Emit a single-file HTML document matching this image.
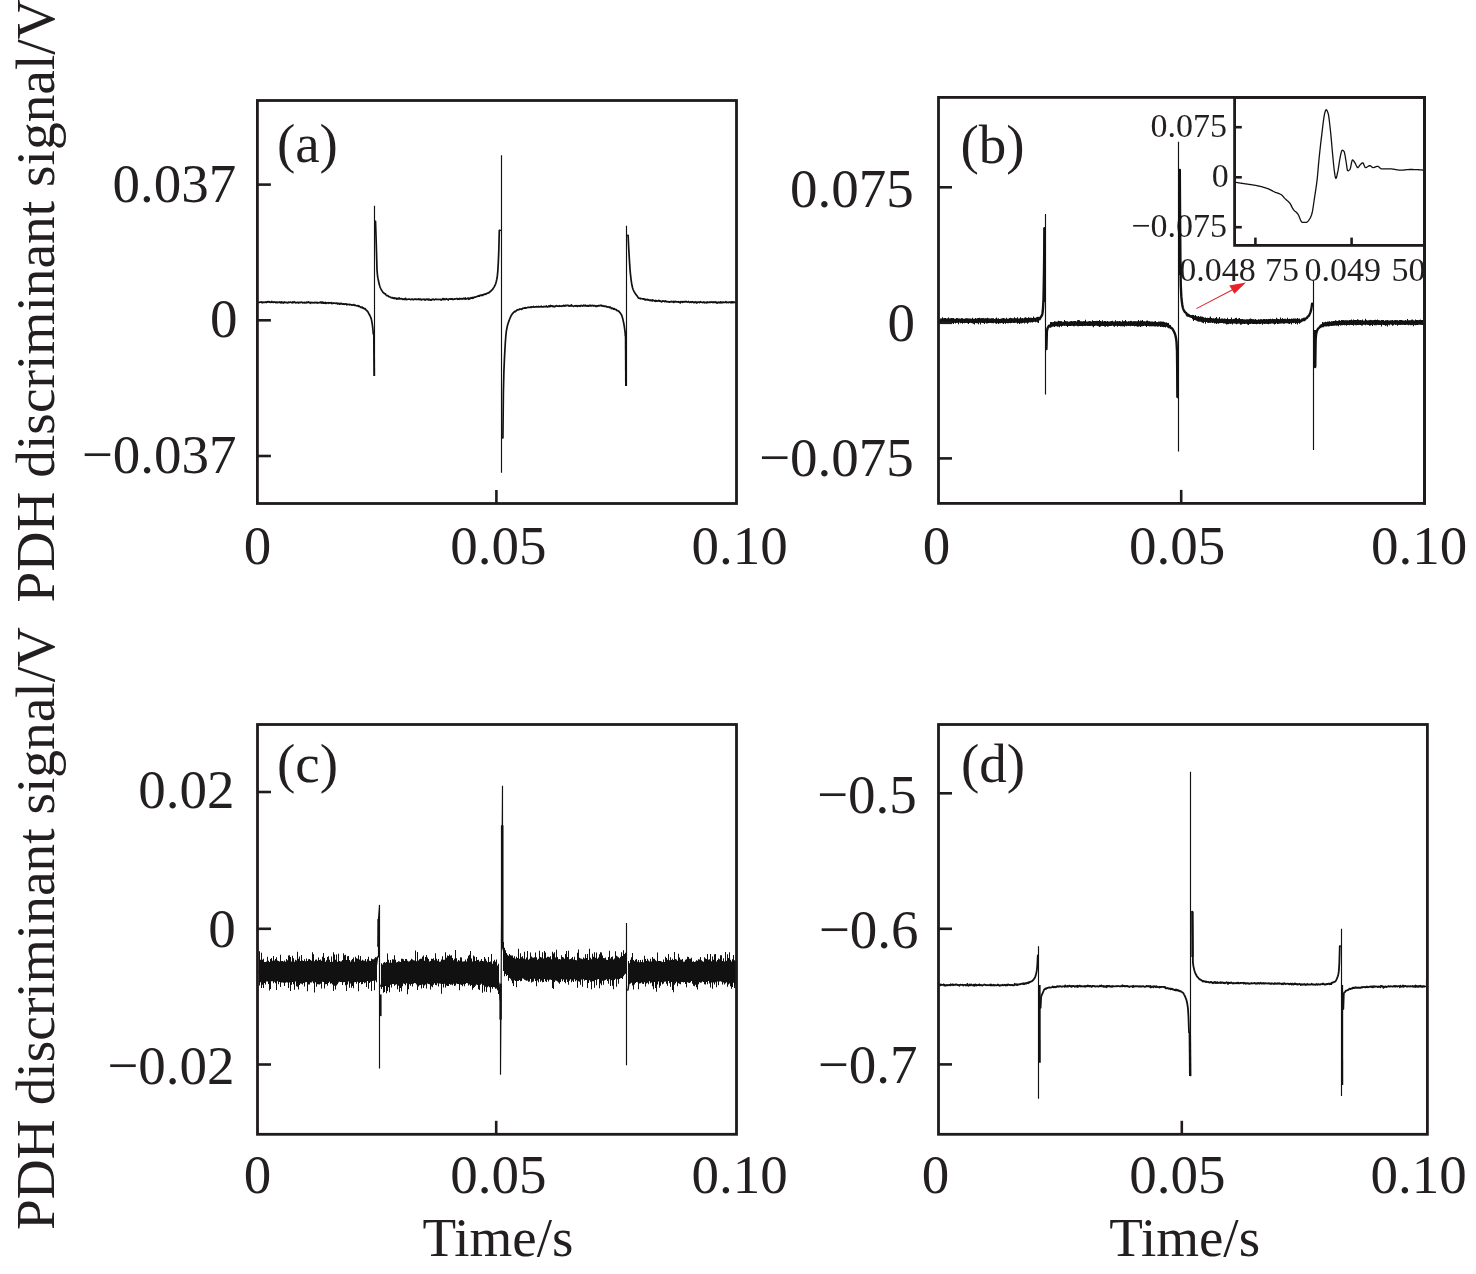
<!DOCTYPE html>
<html><head><meta charset="utf-8"><title>PDH discriminant signal</title>
<style>html,body{margin:0;padding:0;background:#fff;}svg{display:block;will-change:transform;}</style>
</head><body>
<svg width="1476" height="1274" viewBox="0 0 1476 1274">
<rect width="1476" height="1274" fill="#ffffff"/>
<g font-family="&quot;Liberation Serif&quot;, &quot;Times New Roman&quot;, serif" fill="#231f20">
<text transform="translate(54.1,602.4) rotate(-90)" font-size="55.4">PDH discriminant signal/V</text>
<text transform="translate(54.1,1230) rotate(-90)" font-size="55.4">PDH discriminant signal/V</text>
<text x="276.9" y="162.45" font-size="55">(a)</text>
<text x="960.42" y="162.65" font-size="55">(b)</text>
<text x="277.05" y="782.05" font-size="55">(c)</text>
<text x="960.98" y="782.45" font-size="55">(d)</text>
<text x="112.55" y="201.95" font-size="55">0.037</text>
<text x="210.1" y="336.9" font-size="55">0</text>
<text x="81.65" y="472.65" font-size="55">−0.037</text>
<text x="790.05" y="207.45" font-size="55">0.075</text>
<text x="887.4" y="341.2" font-size="55">0</text>
<text x="759.05" y="475.55" font-size="55">−0.075</text>
<text x="138.15" y="808.15" font-size="55">0.02</text>
<text x="208.2" y="946.5" font-size="55">0</text>
<text x="107.15" y="1083.75" font-size="55">−0.02</text>
<text x="817.05" y="813.15" font-size="55">−0.5</text>
<text x="818.65" y="948.25" font-size="55">−0.6</text>
<text x="817.85" y="1082.75" font-size="55">−0.7</text>
<text x="243.85" y="564.1" font-size="55">0</text>
<text x="450.27" y="563.85" font-size="55">0.05</text>
<text x="691.62" y="563.85" font-size="55">0.10</text>
<text x="922.7" y="564" font-size="55">0</text>
<text x="1128.92" y="563.75" font-size="55">0.05</text>
<text x="1370.88" y="563.75" font-size="55">0.10</text>
<text x="243.85" y="1193.2" font-size="55">0</text>
<text x="450.27" y="1192.95" font-size="55">0.05</text>
<text x="691.62" y="1192.95" font-size="55">0.10</text>
<text x="921.8" y="1193.2" font-size="55">0</text>
<text x="1129.18" y="1192.95" font-size="55">0.05</text>
<text x="1370.53" y="1192.95" font-size="55">0.10</text>
<text x="422.62" y="1256.1" font-size="55">Time/s</text>
<text x="1109.22" y="1256.1" font-size="55">Time/s</text>
<text x="1150.5" y="137.1" font-size="34">0.075</text>
<text x="1211.8" y="187.25" font-size="34">0</text>
<text x="1131.25" y="237" font-size="34">−0.075</text>
<text x="1179.2" y="281.1" font-size="34">0.048</text>
<text x="1264.9" y="281.35" font-size="34">75</text>
<text x="1304.6" y="281.1" font-size="34">0.049</text>
<text x="1391.5" y="281.35" font-size="34">50</text>
</g>
<path d="M258.8 302.3L259.3 302.4L259.8 302.2L260.3 301.99L260.8 302.14L261.3 301.95L261.8 302.32L262.3 302.77L262.8 302.13L263.3 302.09L263.8 302.48L264.3 302.43L264.8 302.34L265.3 301.98L265.8 302.3L266.3 302.55L266.8 301.84L267.3 302.15L267.8 301.65L268.3 301.86L268.8 301.67L269.3 302.23L269.8 301.88L270.3 302.41L270.8 302.38L271.3 302.26L271.8 301.45L272.3 302.14L272.8 302.31L273.3 302.37L273.8 301.8L274.3 302.17L274.8 302L275.3 302.06L275.8 302.71L276.3 302.06L276.8 302.34L277.3 302.66L277.8 302.15L278.3 302.32L278.8 302.4L279.3 302.38L279.8 301.93L280.3 302.39L280.8 302.84L281.3 301.83L281.8 302.67L282.3 302.42L282.8 302.16L283.3 303.08L283.8 302.65L284.3 301.97L284.8 302.42L285.3 302.6L285.8 302.33L286.3 302.64L286.8 302.38L287.3 302.64L287.8 302.91L288.3 302.18L288.8 302.49L289.3 302.26L289.8 302.47L290.3 302.01L290.8 302.23L291.3 302.37L291.8 302.75L292.3 302.84L292.8 301.98L293.3 302.17L293.8 302.68L294.3 301.76L294.8 302.3L295.3 302.43L295.8 302.91L296.3 302.71L296.8 302.36L297.3 302.35L297.8 302.4L298.3 303.02L298.8 302.34L299.3 302.39L299.8 302.62L300.3 302.46L300.8 302.44L301.3 302.12L301.8 302.51L302.3 302.36L302.8 302.93L303.3 302.75L303.8 302.52L304.3 302.77L304.8 302.42L305.3 302.91L305.8 302.55L306.3 302.76L306.8 302.11L307.3 302.69L307.8 301.98L308.3 301.87L308.8 302.48L309.3 302.28L309.8 302.65L310.3 303.38L310.8 302.32L311.3 302.4L311.8 302.69L312.3 302.8L312.8 302.57L313.3 302.57L313.8 302.89L314.3 302.84L314.8 302.3L315.3 302.64L315.8 302.69L316.3 302.32L316.8 302.79L317.3 302.41L317.8 303.05L318.3 302.79L318.8 302.76L319.3 302.54L319.8 302.71L320.3 302.07L320.8 302.38L321.3 302.91L321.8 302.05L322.3 303.09L322.8 302.21L323.3 303.09L323.8 302.54L324.3 303.12L324.8 302.9L325.3 302.34L325.8 303.32L326.3 303.39L326.8 302.89L327.3 302.83L327.8 302.88L328.3 302.61L328.8 303.34L329.3 302.79L329.8 302.98L330.3 302.74L330.8 302.81L331.3 302.61L331.8 303.5L332.3 303.05L332.8 303.46L333.3 303.17L333.8 302.97L334.3 303.13L334.8 303.09L335.3 303.32L335.8 303.24L336.3 303.31L336.8 303L337.3 303.23L337.8 304.1L338.3 303.38L338.8 303.3L339.3 303.81L339.8 304.22L340.3 303.32L340.8 303.78L341.3 303.69L341.8 303.37L342.3 304.25L342.8 304.04L343.3 304.12L343.8 303.89L344.3 304.34L344.8 304.05L345.3 304.23L345.8 303.95L346.3 303.95L346.8 304.85L347.3 304.26L347.8 304.57L348.3 304.5L348.8 304.4L349.3 304.41L349.8 304.84L350.3 304.57L350.8 304.66L351.3 304.76L351.8 305.19L352.3 305.08L352.8 305.03L353.3 304.77L353.8 304.56L354.3 305.39L354.8 305.46L355.3 305.18L355.8 305.47L356.3 305.64L356.8 305.76L357.3 305.91L357.8 305.63L358.3 306.37L358.8 305.74L359.3 306.53L359.8 306.62L360.3 306.93L360.8 307.42L361.3 307.53L361.8 307.06L362.3 307.15L362.8 308.06L363.3 307.84L363.8 308.37L364.3 308.87L364.8 308.61L365.3 308.87L365.8 309.78L366.3 310.15L366.8 310.56L367.3 311.11L367.8 311.69L368.3 312.52L368.8 313.51L369.3 314.5L369.8 315.49L370.3 316.49L370.8 317.63L371.3 319.1L371.8 321.27L372.3 324.29L372.8 328.27L373.3 333.8" fill="none" stroke="#111111" stroke-width="1.7" stroke-linejoin="round" stroke-linecap="round"/>
<path d="M373.3 333.8L374.5 333.8L374.5 376L374.5 205.7L374.5 221.4L375.5 221.4" fill="none" stroke="#111111" stroke-width="1.15" stroke-linejoin="miter" stroke-miterlimit="2"/>
<path d="M375.5 221.4L376 235.85L376.5 252.32L377 269.97L377.5 275.53L378.01 278.66L378.51 281.04L379.01 283.31L379.51 285.26L380.01 286.82L380.51 288.01L381.01 289.07L381.51 290.02L382.02 290.89L382.52 291.62L383.02 292.48L383.52 292.92L384.02 293.03L384.52 293.74L385.02 293.85L385.52 293.9L386.03 294.85L386.53 295.61L387.03 295.57L387.53 295.51L388.03 295.81L388.53 296.6L389.03 296.56L389.53 296.74L390.04 296.93L390.54 297.17L391.04 297.59L391.54 297.71L392.04 297.8L392.54 297.59L393.04 298.2L393.54 297.95L394.04 298.61L394.55 297.9L395.05 298.32L395.55 298.42L396.05 298.03L396.55 299.09L397.05 299.05L397.55 298.45L398.05 298.91L398.56 298.81L399.06 297.84L399.56 298.84L400.06 298.77L400.56 298.85L401.06 298.49L401.56 298.79L402.06 298.85L402.57 299.34L403.07 299.08L403.57 298.98L404.07 299.53L404.57 298.84L405.07 298.92L405.57 298.44L406.07 299.63L406.58 299.44L407.08 299.44L407.58 299.37L408.08 299.19L408.58 299.24L409.08 299.09L409.58 299.12L410.08 299.22L410.59 299.74L411.09 299.42L411.59 299.22L412.09 299.05L412.59 299.04L413.09 299.83L413.59 299.46L414.09 299.32L414.59 299.19L415.1 298.93L415.6 299.31L416.1 299.64L416.6 299.21L417.1 299.28L417.6 299.29L418.1 299.42L418.6 298.83L419.11 299.31L419.61 299.11L420.11 299.72L420.61 299.15L421.11 299.63L421.61 299.97L422.11 299.33L422.61 299.24L423.12 299.52L423.62 299.46L424.12 299.12L424.62 299.63L425.12 300.18L425.62 299.39L426.12 299.41L426.62 299.12L427.13 299.6L427.63 299.06L428.13 299.11L428.63 299.95L429.13 299.18L429.63 299.88L430.13 300.03L430.63 299.59L431.13 299.69L431.64 300.18L432.14 299.43L432.64 299.29L433.14 299.02L433.64 299.5L434.14 300L434.64 299.81L435.14 299.14L435.65 299.17L436.15 299.29L436.65 299.56L437.15 299.38L437.65 299.52L438.15 299.54L438.65 299.32L439.15 299.41L439.66 299.48L440.16 299.37L440.66 299.57L441.16 300.03L441.66 299.58L442.16 299.39L442.66 298.77L443.16 299.48L443.67 298.66L444.17 298.84L444.67 299.61L445.17 299.55L445.67 299.24L446.17 298.69L446.67 299.15L447.17 299.03L447.67 299.47L448.18 300.02L448.68 299.3L449.18 298.95L449.68 298.8L450.18 299.18L450.68 299.12L451.18 298.77L451.68 299.2L452.19 298.75L452.69 299.52L453.19 299.49L453.69 299.48L454.19 298.93L454.69 299.26L455.19 299.02L455.69 298.92L456.2 298.92L456.7 298.57L457.2 298.51L457.7 299.26L458.2 298.9L458.7 299.03L459.2 299.28L459.7 298.32L460.21 298.62L460.71 298.93L461.21 298.98L461.71 298.7L462.21 299.15L462.71 298.85L463.21 298.34L463.71 298.41L464.21 298.97L464.72 298.83L465.22 297.99L465.72 299.07L466.22 298.78L466.72 299L467.22 298.38L467.72 298.38L468.22 298.06L468.73 299.26L469.23 298.3L469.73 298.85L470.23 298.06L470.73 298.28L471.23 297.61L471.73 297.95L472.23 298.29L472.74 297.49L473.24 298.09L473.74 297.74L474.24 297.19L474.74 297.22L475.24 297.09L475.74 297.06L476.24 296.77L476.75 296.52L477.25 296.52L477.75 296.14L478.25 295.9L478.75 296.11L479.25 296.22L479.75 295.35L480.25 295.65L480.76 295.3L481.26 295.05L481.76 295.46L482.26 294.9L482.76 295.36L483.26 294.54L483.76 294.74L484.26 294.4L484.76 294.09L485.27 294.32L485.77 293.93L486.27 293.96L486.77 293.58L487.27 293.08L487.77 293.13L488.27 292.93L488.77 292.9L489.28 292.15L489.78 292.05L490.28 291.33L490.78 291.42L491.28 290.63L491.78 290.01L492.28 289.69L492.78 289.17L493.29 288.19L493.79 287.47L494.29 286.65L494.79 285.73L495.29 284.62L495.79 283.23L496.29 281.47L496.79 279.23L497.3 276.37L497.8 271.09L498.3 262.91L498.8 250.58L499.3 230.4" fill="none" stroke="#111111" stroke-width="1.7" stroke-linejoin="round" stroke-linecap="round"/>
<path d="M499.3 230.4L501.5 230.4L501.5 155.2L501.5 472.8L501.5 437.8L502.9 437.8" fill="none" stroke="#111111" stroke-width="1.15" stroke-linejoin="miter" stroke-miterlimit="2"/>
<path d="M502.9 437.8L503.4 391.45L503.9 371.37L504.4 359.4L504.9 349.8L505.4 341.46L505.9 334.97L506.4 330.87L506.9 328.08L507.4 325.85L507.9 324.03L508.4 322.49L508.9 321.1L509.4 319.76L509.9 318.5L510.4 317.31L510.9 316.23L511.4 315.16L511.9 314.47L512.4 313.59L512.9 313.39L513.4 312.54L513.9 312.28L514.4 311.62L514.9 311.37L515.4 311.6L515.9 311.17L516.4 310.59L516.9 310.21L517.4 309.69L517.9 309.89L518.4 309.8L518.9 309.61L519.4 309.44L519.9 308.98L520.4 309.15L520.9 309.01L521.4 309.28L521.9 309.32L522.4 308.59L522.9 308.27L523.4 308.37L523.9 308.09L524.4 307.94L524.9 308.05L525.4 307.65L525.9 308.08L526.4 307.77L526.9 307.81L527.4 307.59L527.9 307.35L528.4 307.21L528.9 307.39L529.4 307.24L529.9 307.45L530.4 307.33L530.9 306.83L531.4 307.28L531.9 306.76L532.4 306.97L532.9 307.05L533.4 306.41L533.9 307.12L534.4 307.11L534.9 306.98L535.4 306.86L535.9 306.86L536.4 306.63L536.9 306.84L537.4 306.73L537.9 306.92L538.4 306.46L538.9 306.93L539.4 306.88L539.9 306.76L540.4 306.63L540.9 306.95L541.4 306.17L541.9 306.87L542.4 306.78L542.9 306.77L543.4 306.78L543.9 306.4L544.4 306.51L544.9 306.8L545.4 306.71L545.9 306.61L546.4 306L546.9 306.68L547.4 306.87L547.9 306.79L548.4 306.51L548.9 305.87L549.4 306.71L549.9 306.31L550.4 305.47L550.9 306.45L551.4 305.79L551.9 305.83L552.4 306.04L552.9 306.67L553.4 306.09L553.9 306.29L554.4 306.78L554.9 306.71L555.4 306.11L555.9 306.04L556.4 305.67L556.9 305.85L557.4 306.22L557.9 306.19L558.4 306.08L558.9 306.36L559.4 305.74L559.9 305.97L560.4 306.23L560.9 306.16L561.4 306.32L561.9 306.07L562.4 305.82L562.9 306.04L563.4 305.55L563.9 305.32L564.4 306.08L564.9 305.85L565.4 305.96L565.9 305.26L566.4 305.71L566.9 305.62L567.4 305.52L567.9 305.03L568.4 305.7L568.9 306.12L569.4 305.94L569.9 305.59L570.4 305.79L570.9 306.06L571.4 304.83L571.9 305.75L572.4 305.98L572.9 306.02L573.4 306.37L573.9 306.17L574.4 305.88L574.9 305.88L575.4 306.04L575.9 305.58L576.4 305.75L576.9 306.08L577.4 306.44L577.9 305.7L578.4 305.74L578.9 305.82L579.4 306.22L579.9 305.74L580.4 306.26L580.9 305.41L581.4 305.68L581.9 305.67L582.4 306.01L582.9 306.1L583.4 305.21L583.9 305.41L584.4 305.85L584.9 305.5L585.4 305.19L585.9 306.09L586.4 305.9L586.9 305.89L587.4 305.55L587.9 306.08L588.4 305.63L588.9 306.1L589.4 305.4L589.9 305.41L590.4 305.78L590.9 305.46L591.4 305.95L591.9 305.8L592.4 305.38L592.9 305.73L593.4 305.58L593.9 306.03L594.4 305.48L594.9 305.55L595.4 306.13L595.9 306.49L596.4 306.4L596.9 305.72L597.4 305.78L597.9 306.24L598.4 305.66L598.9 305.36L599.4 305.74L599.9 305.86L600.4 305.42L600.9 305.17L601.4 305.28L601.9 306.03L602.4 305.63L602.9 305.9L603.4 306.1L603.9 306.32L604.4 306.12L604.9 306.48L605.4 306.16L605.9 306.44L606.4 306.34L606.9 307.13L607.4 306.88L607.9 306.77L608.4 307L608.9 307.15L609.4 307.56L609.9 306.97L610.4 307.27L610.9 307.6L611.4 308.61L611.9 308.28L612.4 308.11L612.9 308.51L613.4 309.07L613.9 308.59L614.4 308.74L614.9 309.39L615.4 309.4L615.9 309.68L616.4 309.61L616.9 310.49L617.4 310.7L617.9 310.74L618.4 311.13L618.9 311.04L619.4 312.02L619.9 312.46L620.4 313.18L620.9 313.91L621.4 314.68L621.9 315.84L622.4 317.43L622.9 319.38L623.4 321.66L623.9 324.2L624.4 327L624.9 330.83L625.4 335.4" fill="none" stroke="#111111" stroke-width="1.7" stroke-linejoin="round" stroke-linecap="round"/>
<path d="M625.4 335.4L626.5 335.4L626.5 386.1L626.5 225.7L626.5 235.4L628.1 235.4" fill="none" stroke="#111111" stroke-width="1.15" stroke-linejoin="miter" stroke-miterlimit="2"/>
<path d="M628.1 235.4L628.6 245.7L629.1 254.86L629.61 263.33L630.11 270.59L630.61 275.58L631.11 279.77L631.61 283.28L632.12 286.04L632.62 287.99L633.12 289.46L633.62 290.66L634.12 291.66L634.62 292.51L635.13 293.29L635.63 294.08L636.13 294.78L636.63 295.46L637.13 295.95L637.64 296.75L638.14 297.6L638.64 298.1L639.14 298.28L639.64 298.33L640.15 298.1L640.65 298.88L641.15 298.58L641.65 298.7L642.15 298.74L642.65 298.96L643.16 298.89L643.66 299.09L644.16 298.85L644.66 299.16L645.16 300.09L645.67 299.41L646.17 299.44L646.67 299.77L647.17 299.91L647.67 299.4L648.18 299.78L648.68 300.22L649.18 300.09L649.68 300.13L650.18 300.67L650.68 300.02L651.19 300.34L651.69 300.22L652.19 300.95L652.69 299.89L653.19 300.37L653.7 300.48L654.2 300.94L654.7 300.97L655.2 301.29L655.7 300.35L656.21 301.17L656.71 300.86L657.21 300.78L657.71 301.22L658.21 300.76L658.71 300.4L659.22 301.01L659.72 300.66L660.22 300.98L660.72 301.36L661.22 301.37L661.73 301.84L662.23 301.26L662.73 300.84L663.23 301.13L663.73 301.11L664.24 301.03L664.74 301.62L665.24 301.28L665.74 300.86L666.24 301.79L666.74 301.54L667.25 301.73L667.75 301.67L668.25 301.87L668.75 301.69L669.25 302.12L669.76 301.87L670.26 301.88L670.76 301.9L671.26 301.28L671.76 301.74L672.27 301.73L672.77 301.91L673.27 301.38L673.77 302.43L674.27 301.92L674.77 301.48L675.28 301.32L675.78 301.83L676.28 301.91L676.78 301.7L677.28 301.99L677.79 301.75L678.29 302.17L678.79 301.73L679.29 301.98L679.79 302.34L680.3 302.9L680.8 301.66L681.3 301.85L681.8 301.73L682.3 302.3L682.8 301.63L683.31 301.87L683.81 302.03L684.31 301.7L684.81 301.72L685.31 301.89L685.82 301.33L686.32 301.56L686.82 301.93L687.32 302.13L687.82 302.01L688.33 301.47L688.83 301.93L689.33 302.37L689.83 302.29L690.33 302.07L690.83 301.8L691.34 302.33L691.84 301.91L692.34 301.71L692.84 301.84L693.34 302.63L693.85 302.21L694.35 302.54L694.85 301.97L695.35 302.47L695.85 301.94L696.36 302.1L696.86 303.02L697.36 302.43L697.86 301.99L698.36 302.14L698.86 302.28L699.37 302.6L699.87 302.01L700.37 301.57L700.87 302.09L701.37 302.19L701.88 302.23L702.38 302.65L702.88 302.31L703.38 302.48L703.88 301.82L704.39 302.51L704.89 302.94L705.39 302.48L705.89 302.3L706.39 302.27L706.89 302.85L707.4 301.9L707.9 302.19L708.4 302.39L708.9 302.49L709.4 302.08L709.91 302.34L710.41 302.14L710.91 302.28L711.41 302.2L711.91 301.85L712.42 302.24L712.92 302.56L713.42 301.92L713.92 302.17L714.42 302.49L714.92 301.89L715.43 302.33L715.93 301.89L716.43 302.66L716.93 303.08L717.43 302.98L717.94 302.19L718.44 302.53L718.94 302.32L719.44 302.31L719.94 302.82L720.45 301.82L720.95 302.65L721.45 302.26L721.95 302.78L722.45 302.35L722.95 302.05L723.46 302.38L723.96 302.55L724.46 302.3L724.96 302.46L725.46 302.11L725.97 301.55L726.47 302.61L726.97 302.54L727.47 302.35L727.97 302.32L728.48 302.66L728.98 302.14L729.48 302.05L729.98 302.23L730.48 302.71L730.98 301.81L731.49 302.72L731.99 302.08L732.49 301.91L732.99 302.74L733.49 302.27L734 301.84L734.5 302.17L735 302.63" fill="none" stroke="#111111" stroke-width="1.7" stroke-linejoin="round" stroke-linecap="round"/>
<path d="M940 321.33L940.5 320.21L941 320.8L941.5 321.02L942 320.08L942.5 320.78L943 320.52L943.5 320.18L944 320.21L944.5 320.61L945 320.59L945.5 320.18L946 320.28L946.5 321.36L947 320.74L947.5 321.22L948 321.44L948.5 321.02L949 322.2L949.5 320.05L950 321.19L950.5 320.41L951 321.93L951.5 321.83L952 319.29L952.5 319.98L953 321.12L953.5 321.21L954 321.18L954.5 320.62L955 320.99L955.5 321.13L956 320.63L956.5 321.4L957 319.11L957.5 321.14L958 319.98L958.5 321.37L959 320.54L959.5 320.09L960 320.97L960.5 320.08L961 320.08L961.5 319.63L962 320.71L962.5 321.07L963 321.44L963.5 320.63L964 321.47L964.5 320.75L965 320.68L965.5 321.14L966 321.48L966.5 320.51L967 320.58L967.5 320.64L968 320.81L968.5 320.13L969 321.48L969.5 320.48L970 321.09L970.5 320.19L971 321.02L971.5 321.04L972 320.48L972.5 322.18L973 321.03L973.5 322.02L974 321.45L974.5 320.31L975 320.51L975.5 321.08L976 320.82L976.5 320.82L977 320.58L977.5 319.52L978 320.63L978.5 319.24L979 321.05L979.5 320.28L980 320.29L980.5 320.64L981 320.98L981.5 319.79L982 319.57L982.5 320.05L983 319.36L983.5 320.12L984 321.91L984.5 320.06L985 321.25L985.5 319.84L986 321.01L986.5 320.57L987 320.76L987.5 321.2L988 322.03L988.5 320.93L989 320.89L989.5 320.12L990 321.21L990.5 320.63L991 321.38L991.5 320.77L992 322.02L992.5 319.41L993 320.59L993.5 321.42L994 320.55L994.5 320.25L995 320.61L995.5 319.83L996 320.88L996.5 322.51L997 321.6L997.5 320.02L998 320.19L998.5 320.52L999 321.5L999.5 320.22L1000 320.32L1000.5 321.42L1001 321.4L1001.5 320.54L1002 320.02L1002.5 319.71L1003 320.31L1003.5 319.23L1004 321.31L1004.5 320.35L1005 321.12L1005.5 322.08L1006 321.59L1006.5 319.97L1007 321.37L1007.5 321.57L1008 320.24L1008.5 320.09L1009 320.67L1009.5 319.62L1010 321.75L1010.5 319.05L1011 319.95L1011.5 320.52L1012 320.54L1012.5 320.81L1013 320.87L1013.5 320.53L1014 321.45L1014.5 319.17L1015 320.65L1015.5 320.14L1016 320.72L1016.5 320.77L1017 319.97L1017.5 320.15L1018 321.13L1018.5 320.81L1019 320.08L1019.5 321.95L1020 322.12L1020.5 319.5L1021 320.71L1021.5 322.22L1022 321.01L1022.5 320.61L1023 320.3L1023.5 320.05L1024 320.27L1024.5 320.02L1025 320.89L1025.5 320.09L1026 320.04L1026.5 319.5L1027 320.28L1027.5 319.68L1028 320.15L1028.5 320.97L1029 320.49L1029.5 320.57L1030 320.44L1030.5 320.22L1031 320.07L1031.5 319.92L1032 320.62L1032.5 319.34L1033 320.94L1033.5 320.02L1034 319.45L1034.5 319.58L1035 319.4L1035.5 319.89L1036 319.25L1036.5 320.38L1037 319.06L1037.5 318.03L1038 318.91L1038.5 318.06L1039 319.03L1039.5 319.23L1040 318.56L1040.5 317.43L1041 316.95L1041.5 316.18L1042 315.09L1042.5 313.24L1043 308.31L1043.5 299.54L1044 271.85L1044.5 228.3" fill="none" stroke="#111111" stroke-width="2.4" stroke-linejoin="round" stroke-linecap="round"/>
<path d="M1044.5 228.3L1045.5 228.3L1045.5 214.1L1045.5 394.6L1045.5 349.1L1046.4 349.1" fill="none" stroke="#111111" stroke-width="1.15" stroke-linejoin="miter" stroke-miterlimit="2"/>
<path d="M1046.4 349.1L1046.9 331.14L1047.4 328.72L1047.9 327.53L1048.4 326.72L1048.9 325.79L1049.4 325.77L1049.9 325.6L1050.4 326.6L1050.9 324.63L1051.4 324.84L1051.9 324.63L1052.4 324.82L1052.9 325.04L1053.41 323.98L1053.91 323.65L1054.41 323.02L1054.91 323.38L1055.41 324.26L1055.91 323.88L1056.41 323.13L1056.91 323.54L1057.41 323.82L1057.91 324.14L1058.41 323.37L1058.91 323.6L1059.41 322.51L1059.91 322.97L1060.41 324.89L1060.91 322.23L1061.41 323.52L1061.91 323.9L1062.41 323.48L1062.91 323.17L1063.41 323.69L1063.91 323.72L1064.41 323.67L1064.91 322.41L1065.41 323.61L1065.91 323.12L1066.42 323.33L1066.92 323.86L1067.42 324.15L1067.92 324.32L1068.42 323.35L1068.92 324.33L1069.42 324.5L1069.92 324.47L1070.42 324.65L1070.92 323.57L1071.42 323.55L1071.92 324.24L1072.42 322.71L1072.92 323.81L1073.42 323.29L1073.92 323.4L1074.42 322.44L1074.92 323.03L1075.42 323.64L1075.92 324.27L1076.42 324.34L1076.92 323.59L1077.42 323.51L1077.92 323.06L1078.42 323.92L1078.92 323.46L1079.43 324.06L1079.93 324.85L1080.43 323.61L1080.93 322.58L1081.43 323.02L1081.93 322.6L1082.43 322.79L1082.93 324.53L1083.43 323.78L1083.93 322.56L1084.43 324.07L1084.93 324.5L1085.43 323.36L1085.93 323.14L1086.43 323.38L1086.93 323.81L1087.43 324.06L1087.93 324.44L1088.43 324.46L1088.93 324.44L1089.43 324.56L1089.93 324.07L1090.43 322.53L1090.93 323.51L1091.43 323.82L1091.93 323.34L1092.44 324.24L1092.94 323.35L1093.44 322.95L1093.94 324.61L1094.44 324.07L1094.94 323.75L1095.44 324.25L1095.94 324.34L1096.44 323.84L1096.94 321.88L1097.44 323.13L1097.94 323.28L1098.44 322.91L1098.94 323.74L1099.44 324.43L1099.94 323.26L1100.44 322.81L1100.94 325.02L1101.44 323.28L1101.94 322.74L1102.44 323.77L1102.94 323.9L1103.44 323.11L1103.94 324.15L1104.44 323.26L1104.94 322.96L1105.45 323.73L1105.95 324.14L1106.45 323.16L1106.95 323.83L1107.45 323.54L1107.95 325.58L1108.45 323.11L1108.95 324.57L1109.45 323.57L1109.95 323.52L1110.45 324.11L1110.95 324.23L1111.45 324.5L1111.95 323.84L1112.45 323.19L1112.95 323.24L1113.45 323.97L1113.95 324.02L1114.45 324.59L1114.95 323.91L1115.45 324.36L1115.95 324.68L1116.45 323.74L1116.95 322.58L1117.45 322.8L1117.95 322.62L1118.45 324.74L1118.96 323.04L1119.46 324.49L1119.96 324.04L1120.46 324.83L1120.96 324.33L1121.46 323.56L1121.96 323.5L1122.46 323.7L1122.96 323.76L1123.46 323.27L1123.96 323.62L1124.46 324.77L1124.96 322.46L1125.46 323.83L1125.96 323.02L1126.46 323.78L1126.96 324.24L1127.46 323.62L1127.96 324.2L1128.46 322.55L1128.96 324.44L1129.46 323.25L1129.96 324.1L1130.46 323.8L1130.96 321.87L1131.46 323.15L1131.97 323.83L1132.47 324.77L1132.97 323.89L1133.47 323.87L1133.97 322.7L1134.47 324.69L1134.97 324.96L1135.47 323.72L1135.97 323.55L1136.47 322.57L1136.97 324.32L1137.47 325.6L1137.97 324.21L1138.47 324.6L1138.97 324.1L1139.47 323.04L1139.97 324.66L1140.47 322.87L1140.97 323.59L1141.47 323.93L1141.97 324.36L1142.47 324.03L1142.97 324.02L1143.47 323.22L1143.97 322.85L1144.47 323.8L1144.98 323.27L1145.48 322.85L1145.98 322.89L1146.48 323.43L1146.98 322.48L1147.48 322.84L1147.98 322.64L1148.48 323.91L1148.98 324.08L1149.48 325.19L1149.98 322.76L1150.48 323.33L1150.98 324.44L1151.48 323.66L1151.98 323.59L1152.48 325.01L1152.98 323.6L1153.48 323.04L1153.98 322.94L1154.48 324.09L1154.98 324.08L1155.48 322.93L1155.98 323.21L1156.48 324.27L1156.98 324.32L1157.48 323.49L1157.99 324.38L1158.49 324.36L1158.99 322.76L1159.49 323.79L1159.99 324.31L1160.49 323.65L1160.99 322.6L1161.49 323.9L1161.99 324.63L1162.49 325.22L1162.99 322.68L1163.49 325.97L1163.99 323.47L1164.49 324.91L1164.99 325.12L1165.49 324.99L1165.99 324.55L1166.49 323.92L1166.99 325.14L1167.49 324.62L1167.99 323.96L1168.49 326.93L1168.99 326.19L1169.49 327.02L1169.99 326.14L1170.49 327.55L1171 327.96L1171.5 328.3L1172 328.32L1172.5 328.78L1173 329.78L1173.5 330.62L1174 331.7L1174.5 332.79L1175 334.06L1175.5 335.75L1176 338.13L1176.5 341.91L1177 351.26L1177.5 397" fill="none" stroke="#111111" stroke-width="2.4" stroke-linejoin="round" stroke-linecap="round"/>
<path d="M1177.5 397L1178.5 397L1178.5 451.5L1178.5 141.7L1178.5 170L1179.8 170" fill="none" stroke="#111111" stroke-width="1.15" stroke-linejoin="miter" stroke-miterlimit="2"/>
<path d="M1179.8 170L1180.3 258.24L1180.8 285.75L1181.3 296.18L1181.8 301.3L1182.31 304.94L1182.81 307.5L1183.31 309.12L1183.81 310.23L1184.31 311.09L1184.81 311.99L1185.31 312.33L1185.81 312.72L1186.31 313.09L1186.82 314.62L1187.32 315.43L1187.82 314.92L1188.32 314.66L1188.82 315.65L1189.32 315.39L1189.82 316.24L1190.32 316.2L1190.83 316.41L1191.33 316.8L1191.83 316.34L1192.33 316.63L1192.83 316.07L1193.33 316.99L1193.83 316.62L1194.33 317.54L1194.83 317.27L1195.34 318.06L1195.84 318.44L1196.34 317.54L1196.84 318.05L1197.34 318.13L1197.84 319.29L1198.34 320.01L1198.84 319.62L1199.34 318.97L1199.85 320.23L1200.35 318.36L1200.85 320.39L1201.35 319.04L1201.85 317.7L1202.35 321.34L1202.85 320.69L1203.35 319.02L1203.85 319.87L1204.36 319.67L1204.86 319.93L1205.36 318.92L1205.86 319.5L1206.36 320.31L1206.86 320.19L1207.36 320.89L1207.86 320.18L1208.36 321.75L1208.87 319.72L1209.37 320.42L1209.87 318.98L1210.37 319.46L1210.87 321.24L1211.37 319.74L1211.87 320.77L1212.37 320.39L1212.88 319.75L1213.38 320.26L1213.88 320.17L1214.38 320.21L1214.88 321.09L1215.38 321.04L1215.88 320.23L1216.38 320.02L1216.88 320.86L1217.39 320.62L1217.89 321.42L1218.39 322.55L1218.89 321.33L1219.39 320.75L1219.89 320.68L1220.39 320.23L1220.89 320.21L1221.39 320.17L1221.9 320.61L1222.4 320.6L1222.9 321.43L1223.4 320.66L1223.9 320.82L1224.4 320.14L1224.9 322.13L1225.4 321.36L1225.9 322.26L1226.41 321.6L1226.91 322.1L1227.41 320.92L1227.91 321.6L1228.41 322.99L1228.91 320.31L1229.41 321.98L1229.91 322.35L1230.41 321.49L1230.92 321.75L1231.42 322.12L1231.92 320.79L1232.42 321.56L1232.92 320.68L1233.42 320.83L1233.92 320.88L1234.42 321.23L1234.92 321.45L1235.43 321.68L1235.93 320.38L1236.43 322.79L1236.93 322.22L1237.43 321.93L1237.93 321.18L1238.43 321.38L1238.93 321.85L1239.44 321.76L1239.94 320.29L1240.44 322.02L1240.94 323.57L1241.44 320.2L1241.94 322.23L1242.44 321.79L1242.94 321.46L1243.44 322.52L1243.95 320.71L1244.45 321.68L1244.95 322.61L1245.45 321.43L1245.95 321.28L1246.45 321.67L1246.95 321.27L1247.45 322.7L1247.95 320.94L1248.46 322.22L1248.96 320.7L1249.46 322.08L1249.96 321.52L1250.46 319.74L1250.96 321.6L1251.46 320.83L1251.96 321.28L1252.46 322.7L1252.97 320.79L1253.47 320.83L1253.97 322.63L1254.47 321.67L1254.97 322.7L1255.47 321.82L1255.97 320.95L1256.47 321.53L1256.97 322.46L1257.48 322.25L1257.98 321.57L1258.48 321.61L1258.98 321.49L1259.48 321.15L1259.98 322.94L1260.48 321.56L1260.98 320.74L1261.49 321.21L1261.99 322.06L1262.49 322L1262.99 321.44L1263.49 321.05L1263.99 321.54L1264.49 320.32L1264.99 320.58L1265.49 322.08L1266 321.16L1266.5 321.76L1267 322.36L1267.5 321.95L1268 321.49L1268.5 322.99L1269 321.94L1269.5 321.21L1270 321.98L1270.51 321.74L1271.01 320.83L1271.51 321.48L1272.01 321.31L1272.51 320.01L1273.01 321.29L1273.51 321.2L1274.01 321.08L1274.51 320.21L1275.02 321.13L1275.52 321.34L1276.02 321.44L1276.52 320.55L1277.02 321.8L1277.52 320.47L1278.02 321.17L1278.52 322.26L1279.02 320.82L1279.53 320.94L1280.03 322.07L1280.53 321.02L1281.03 321.07L1281.53 321.43L1282.03 322.01L1282.53 319.69L1283.03 320.66L1283.54 320.52L1284.04 320.46L1284.54 320.61L1285.04 320.61L1285.54 321.41L1286.04 320.56L1286.54 321.26L1287.04 321.45L1287.54 320.63L1288.05 321.23L1288.55 322.28L1289.05 321.33L1289.55 320.64L1290.05 321.03L1290.55 320.41L1291.05 321.23L1291.55 321.63L1292.05 320.43L1292.56 320.83L1293.06 321.74L1293.56 320.59L1294.06 321.04L1294.56 320.17L1295.06 320.29L1295.56 320.47L1296.06 322.28L1296.56 320.49L1297.07 320.38L1297.57 320.32L1298.07 320.56L1298.57 321.08L1299.07 320.72L1299.57 321.94L1300.07 320.66L1300.57 321.44L1301.07 320.61L1301.58 320.78L1302.08 319.37L1302.58 320.2L1303.08 320.14L1303.58 319.89L1304.08 318.66L1304.58 320.02L1305.08 319.09L1305.59 318.73L1306.09 318.44L1306.59 318.03L1307.09 317.81L1307.59 316.73L1308.09 316.34L1308.59 316.14L1309.09 315.33L1309.59 314.33L1310.1 313.12L1310.6 311.66L1311.1 309.92L1311.6 307.13L1312.1 303.6" fill="none" stroke="#111111" stroke-width="2.4" stroke-linejoin="round" stroke-linecap="round"/>
<path d="M1312.1 303.6L1313.5 303.6L1313.5 280.4L1313.5 449.9L1313.5 367L1315.1 367" fill="none" stroke="#111111" stroke-width="1.15" stroke-linejoin="miter" stroke-miterlimit="2"/>
<path d="M1315.1 367L1315.6 339.97L1316.1 334.46L1316.61 331.98L1317.11 330.65L1317.61 329.48L1318.11 328.62L1318.61 328.25L1319.11 327.78L1319.62 327.23L1320.12 327.04L1320.62 325.68L1321.12 326.44L1321.62 325.2L1322.13 325.23L1322.63 325.07L1323.13 324.41L1323.63 324.05L1324.13 324.06L1324.64 324.53L1325.14 324.81L1325.64 324.7L1326.14 323.62L1326.64 323.67L1327.14 323.5L1327.65 324.31L1328.15 322.62L1328.65 324.69L1329.15 323.5L1329.65 323.24L1330.16 323.93L1330.66 324.33L1331.16 323.82L1331.66 324.25L1332.16 323.59L1332.66 324.28L1333.17 324.25L1333.67 323.31L1334.17 324.31L1334.67 323.41L1335.17 323.33L1335.68 322.61L1336.18 323.01L1336.68 323.7L1337.18 322.25L1337.68 323.55L1338.19 323.32L1338.69 323.24L1339.19 321.53L1339.69 322.93L1340.19 323.41L1340.69 322.43L1341.2 322.98L1341.7 321.27L1342.2 323.32L1342.7 322.38L1343.2 323.4L1343.71 321.53L1344.21 323.23L1344.71 322.57L1345.21 323.27L1345.71 322.06L1346.21 322.25L1346.72 324.2L1347.22 322.07L1347.72 322.14L1348.22 322.43L1348.72 321.9L1349.23 323.43L1349.73 323.81L1350.23 322.11L1350.73 321.39L1351.23 323.42L1351.74 323.38L1352.24 323.18L1352.74 323.41L1353.24 321.99L1353.74 322.48L1354.24 321.63L1354.75 321.61L1355.25 323.29L1355.75 322.13L1356.25 324.2L1356.75 322.65L1357.26 322.15L1357.76 323.16L1358.26 323.86L1358.76 322.94L1359.26 321.75L1359.76 322.86L1360.27 323.56L1360.77 322.25L1361.27 322.06L1361.77 323.31L1362.27 322.7L1362.78 321.83L1363.28 322.33L1363.78 322.07L1364.28 322.81L1364.78 322.68L1365.29 323.41L1365.79 323.1L1366.29 321.51L1366.79 322.88L1367.29 323.23L1367.79 322.92L1368.3 323.32L1368.8 322.22L1369.3 321.93L1369.8 323.25L1370.3 321.85L1370.81 321.09L1371.31 323.32L1371.81 322.09L1372.31 322.39L1372.81 321.62L1373.31 321.67L1373.82 321.79L1374.32 322.35L1374.82 322.86L1375.32 320.99L1375.82 323.13L1376.33 321.77L1376.83 321.85L1377.33 323.07L1377.83 322.55L1378.33 321.52L1378.84 323.89L1379.34 322L1379.84 322.77L1380.34 322.74L1380.84 323.59L1381.34 322.28L1381.85 323.31L1382.35 322.08L1382.85 323.39L1383.35 322.07L1383.85 322.35L1384.36 323.93L1384.86 322.82L1385.36 322.68L1385.86 324.17L1386.36 322.85L1386.86 322.03L1387.37 323.11L1387.87 321.77L1388.37 323.39L1388.87 323.44L1389.37 322.2L1389.88 322.16L1390.38 322.72L1390.88 322.61L1391.38 321.92L1391.88 323L1392.39 321.17L1392.89 322.3L1393.39 322.32L1393.89 322.41L1394.39 322.82L1394.89 321.74L1395.4 323.01L1395.9 322.47L1396.4 322.14L1396.9 321.64L1397.4 321.77L1397.91 322.85L1398.41 321.93L1398.91 322.64L1399.41 323.34L1399.91 323.32L1400.41 323.69L1400.92 322.39L1401.42 321.84L1401.92 323.31L1402.42 322.82L1402.92 323.39L1403.43 322.61L1403.93 323.44L1404.43 323.19L1404.93 323.1L1405.43 322.95L1405.94 322.88L1406.44 322.76L1406.94 322.76L1407.44 323.29L1407.94 322.24L1408.44 323.81L1408.95 322.53L1409.45 323.29L1409.95 322.54L1410.45 322.43L1410.95 324.02L1411.46 322.38L1411.96 321.71L1412.46 322.1L1412.96 322.38L1413.46 324.11L1413.96 322.74L1414.47 323.25L1414.97 321.9L1415.47 322.85L1415.97 323.07L1416.47 323.86L1416.98 322.11L1417.48 323.02L1417.98 322.81L1418.48 321.88L1418.98 322.59L1419.49 322.42L1419.99 320.97L1420.49 323.02L1420.99 322.98L1421.49 322.29L1421.99 321.66L1422.5 323.64L1423 322.79L1423.5 323.31" fill="none" stroke="#111111" stroke-width="2.4" stroke-linejoin="round" stroke-linecap="round"/>
<path d="M940 318.44L940 318.44L941 318.44L941 318.41L942 318.41L942 317.15L943 317.15L943 318.19L944 318.19L944 318.05L945 318.05L945 318.06L946 318.06L946 318.51L947 318.51L947 318.18L948 318.18L948 317.38L949 317.38L949 318.45L950 318.45L950 318.19L951 318.19L951 318.11L952 318.11L952 318.42L953 318.42L953 318.12L954 318.12L954 318.68L955 318.68L955 318.66L956 318.66L956 318.25L957 318.25L957 318.58L958 318.58L958 318.39L959 318.39L959 318.46L960 318.46L960 318.71L961 318.71L961 318.29L962 318.29L962 318.31L963 318.31L963 318.73L964 318.73L964 318.66L965 318.66L965 318.28L966 318.28L966 318.21L967 318.21L967 318.24L968 318.24L968 318.51L969 318.51L969 318.6L970 318.6L970 318.55L971 318.55L971 318.74L972 318.74L972 317.77L973 317.77L973 318.71L974 318.71L974 318.76L975 318.76L975 317.97L976 317.97L976 318.84L977 318.84L977 318.55L978 318.55L978 318.4L979 318.4L979 317.74L980 317.74L980 318.21L981 318.21L981 318.27L982 318.27L982 318.45L983 318.45L983 318.27L984 318.27L984 318.58L985 318.58L985 318.34L986 318.34L986 318.25L987 318.25L987 317.87L988 317.87L988 318.21L989 318.21L989 318.48L990 318.48L990 318.54L991 318.54L991 318.35L992 318.35L992 318.68L993 318.68L993 318.32L994 318.32L994 318.89L995 318.89L995 318.73L996 318.73L996 317.42L997 317.42L997 318.72L998 318.72L998 318.24L999 318.24L999 318.88L1000 318.88L1000 318.69L1001 318.69L1001 318.5L1002 318.5L1002 318.4L1003 318.4L1003 318.35L1004 318.35L1004 318.62L1005 318.62L1005 318.72L1006 318.72L1006 317.87L1007 317.87L1007 318.78L1008 318.78L1008 318.8L1009 318.8L1009 318.68L1010 318.68L1010 318.48L1011 318.48L1011 318.15L1012 318.15L1012 318.28L1013 318.28L1013 318.38L1014 318.38L1014 317.26L1015 317.26L1015 318.25L1016 318.25L1016 318.28L1017 318.28L1017 317.27L1018 317.27L1018 318.6L1019 318.6L1019 318.5L1020 318.5L1020 317.26L1021 317.26L1021 318.14L1022 318.14L1022 318L1023 318L1023 318.5L1024 318.5L1024 317.87L1025 317.87L1025 317.2L1026 317.2L1026 317.78L1027 317.78L1027 317.98L1028 317.98L1028 317.35L1029 317.35L1029 317.75L1030 317.75L1030 317.84L1031 317.84L1031 317.74L1032 317.74L1032 318.02L1033 318.02L1033 316.53L1034 316.53L1034 317.65L1035 317.65L1035 317.71L1036 317.71L1036 317.53L1037 317.53L1037 317.14L1038 317.14L1038 317.14L1039 317.14L1039 322.99L1038 322.99L1038 322.53L1037 322.53L1037 321.55L1036 321.55L1036 322.25L1035 322.25L1035 321.72L1034 321.72L1034 321.97L1033 321.97L1033 322.39L1032 322.39L1032 322.34L1031 322.34L1031 322.42L1030 322.42L1030 322.35L1029 322.35L1029 322.67L1028 322.67L1028 323.73L1027 323.73L1027 322.63L1026 322.63L1026 322.67L1025 322.67L1025 323.46L1024 323.46L1024 322.85L1023 322.85L1023 322.95L1022 322.95L1022 322.47L1021 322.47L1021 322.89L1020 322.89L1020 324.07L1019 324.07L1019 322.91L1018 322.91L1018 323.75L1017 323.75L1017 322.87L1016 322.87L1016 322.77L1015 322.77L1015 323.04L1014 323.04L1014 322.94L1013 322.94L1013 322.68L1012 322.68L1012 323.09L1011 323.09L1011 323.15L1010 323.15L1010 322.67L1009 322.67L1009 323.19L1008 323.19L1008 323.25L1007 323.25L1007 322.69L1006 322.69L1006 323.67L1005 323.67L1005 322.76L1004 322.76L1004 324.09L1003 324.09L1003 323.13L1002 323.13L1002 322.9L1001 322.9L1001 323.16L1000 323.16L1000 323.28L999 323.28L999 323.88L998 323.88L998 322.94L997 322.94L997 323.39L996 323.39L996 323.34L995 323.34L995 322.73L994 322.73L994 323.35L993 323.35L993 323.11L992 323.11L992 323.06L991 323.06L991 322.84L990 322.84L990 322.97L989 322.97L989 322.96L988 322.96L988 323.22L987 323.22L987 323.6L986 323.6L986 322.77L985 322.77L985 324.07L984 324.07L984 323.01L983 323.01L983 322.88L982 322.88L982 322.77L981 322.77L981 324.51L980 324.51L980 322.83L979 322.83L979 324.17L978 324.17L978 323.2L977 323.2L977 323.15L976 323.15L976 323.03L975 323.03L975 324.46L974 324.46L974 323.82L973 323.82L973 322.73L972 322.73L972 323.12L971 323.12L971 322.74L970 322.74L970 322.96L969 322.96L969 324.04L968 324.04L968 323.26L967 323.26L967 322.87L966 322.87L966 323.11L965 323.11L965 323.15L964 323.15L964 322.68L963 322.68L963 323.82L962 323.82L962 323.09L961 323.09L961 323.16L960 323.16L960 322.61L959 322.61L959 324.29L958 324.29L958 322.82L957 322.82L957 322.71L956 322.71L956 323.48L955 323.48L955 322.82L954 322.82L954 324.07L953 324.07L953 323.24L952 323.24L952 323.13L951 323.13L951 322.56L950 322.56L950 323.07L949 323.07L949 322.79L948 322.79L948 322.65L947 322.65L947 322.63L946 322.63L946 322.83L945 322.83L945 322.68L944 322.68L944 323.15L943 323.15L943 322.45L942 322.45L942 322.51L941 322.51L941 322.94L940 322.94Z" fill="#111111" stroke="none"/>
<path d="M1050 322.01L1050 322.01L1051 322.01L1051 322.1L1052 322.1L1052 322.19L1053 322.19L1053 321.97L1054 321.97L1054 321.36L1055 321.36L1055 321.41L1056 321.41L1056 321.86L1057 321.86L1057 321.4L1058 321.4L1058 320.78L1059 320.78L1059 321.37L1060 321.37L1060 321.66L1061 321.66L1061 321.76L1062 321.76L1062 321.83L1063 321.83L1063 321.63L1064 321.63L1064 319.95L1065 319.95L1065 321.19L1066 321.19L1066 321.33L1067 321.33L1067 321.28L1068 321.28L1068 321.66L1069 321.66L1069 321.54L1070 321.54L1070 321.15L1071 321.15L1071 321.08L1072 321.08L1072 321.46L1073 321.46L1073 321.22L1074 321.22L1074 321.1L1075 321.1L1075 321.05L1076 321.05L1076 321.54L1077 321.54L1077 320.19L1078 320.19L1078 320.09L1079 320.09L1079 320.34L1080 320.34L1080 321.41L1081 321.41L1081 321.53L1082 321.53L1082 321.71L1083 321.71L1083 321.18L1084 321.18L1084 321.23L1085 321.23L1085 319.83L1086 319.83L1086 321.61L1087 321.61L1087 321.55L1088 321.55L1088 321.29L1089 321.29L1089 321.05L1090 321.05L1090 321.38L1091 321.38L1091 321.56L1092 321.56L1092 320.34L1093 320.34L1093 321.03L1094 321.03L1094 321.09L1095 321.09L1095 321.07L1096 321.07L1096 321.41L1097 321.41L1097 321.52L1098 321.52L1098 321.09L1099 321.09L1099 320.04L1100 320.04L1100 321.1L1101 321.1L1101 321.43L1102 321.43L1102 320.26L1103 320.26L1103 321.53L1104 321.53L1104 321.09L1105 321.09L1105 321.06L1106 321.06L1106 321.45L1107 321.45L1107 321.09L1108 321.09L1108 321.44L1109 321.44L1109 321.39L1110 321.39L1110 321.31L1111 321.31L1111 321.06L1112 321.06L1112 320.65L1113 320.65L1113 321.53L1114 321.53L1114 321.53L1115 321.53L1115 320.35L1116 320.35L1116 321.65L1117 321.65L1117 321.18L1118 321.18L1118 321.6L1119 321.6L1119 320.96L1120 320.96L1120 321.28L1121 321.28L1121 321.64L1122 321.64L1122 320.26L1123 320.26L1123 321.35L1124 321.35L1124 321.36L1125 321.36L1125 320.01L1126 320.01L1126 321.2L1127 321.2L1127 321.67L1128 321.67L1128 321.18L1129 321.18L1129 321.38L1130 321.38L1130 321.29L1131 321.29L1131 321.66L1132 321.66L1132 321.45L1133 321.45L1133 321.29L1134 321.29L1134 321.23L1135 321.23L1135 321.23L1136 321.23L1136 321.65L1137 321.65L1137 321.22L1138 321.22L1138 320.08L1139 320.08L1139 321.35L1140 321.35L1140 320.46L1141 320.46L1141 320.68L1142 320.68L1142 319.88L1143 319.88L1143 321.23L1144 321.23L1144 321.29L1145 321.29L1145 321.6L1146 321.6L1146 320.69L1147 320.69L1147 320.52L1148 320.52L1148 321.36L1149 321.36L1149 321.27L1150 321.27L1150 321.79L1151 321.79L1151 321.4L1152 321.4L1152 321.47L1153 321.47L1153 321.97L1154 321.97L1154 321.4L1155 321.4L1155 320.94L1156 320.94L1156 321.97L1157 321.97L1157 322.2L1158 322.2L1158 321.75L1159 321.75L1159 322.13L1160 322.13L1160 322.09L1161 322.09L1161 322.4L1162 322.4L1162 322.2L1163 322.2L1163 322.43L1164 322.43L1164 322.23L1165 322.23L1165 322.42L1166 322.42L1166 322.47L1167 322.47L1167 322.88L1168 322.88L1168 326.89L1167 326.89L1167 326.84L1166 326.84L1166 327.49L1165 327.49L1165 326.88L1164 326.88L1164 326.81L1163 326.81L1163 326.69L1162 326.69L1162 326.8L1161 326.8L1161 326.88L1160 326.88L1160 326.25L1159 326.25L1159 326.44L1158 326.44L1158 326.65L1157 326.65L1157 326.34L1156 326.34L1156 326.44L1155 326.44L1155 326.44L1154 326.44L1154 326.36L1153 326.36L1153 326.04L1152 326.04L1152 326.29L1151 326.29L1151 326.35L1150 326.35L1150 326.09L1149 326.09L1149 326.01L1148 326.01L1148 326.04L1147 326.04L1147 326.91L1146 326.91L1146 326.09L1145 326.09L1145 325.78L1144 325.78L1144 326.04L1143 326.04L1143 326.34L1142 326.34L1142 326.15L1141 326.15L1141 327.12L1140 327.12L1140 326.22L1139 326.22L1139 326.41L1138 326.41L1138 325.83L1137 325.83L1137 326.04L1136 326.04L1136 326.03L1135 326.03L1135 326.19L1134 326.19L1134 325.74L1133 325.74L1133 325.87L1132 325.87L1132 325.71L1131 325.71L1131 326.14L1130 326.14L1130 325.75L1129 325.75L1129 326L1128 326L1128 325.72L1127 325.72L1127 326.22L1126 326.22L1126 325.65L1125 325.65L1125 326.75L1124 326.75L1124 326.16L1123 326.16L1123 326.21L1122 326.21L1122 326.13L1121 326.13L1121 326.14L1120 326.14L1120 325.94L1119 325.94L1119 325.89L1118 325.89L1118 326.72L1117 326.72L1117 325.57L1116 325.57L1116 325.67L1115 325.67L1115 326.75L1114 326.75L1114 326.25L1113 326.25L1113 325.51L1112 325.51L1112 325.69L1111 325.69L1111 325.89L1110 325.89L1110 325.99L1109 325.99L1109 325.97L1108 325.97L1108 325.67L1107 325.67L1107 326L1106 326L1106 326.81L1105 326.81L1105 326.56L1104 326.56L1104 326.11L1103 326.11L1103 326.12L1102 326.12L1102 325.54L1101 325.54L1101 326.59L1100 326.59L1100 326.9L1099 326.9L1099 326.16L1098 326.16L1098 326L1097 326L1097 325.58L1096 325.58L1096 325.52L1095 325.52L1095 326.03L1094 326.03L1094 327.15L1093 327.15L1093 326.2L1092 326.2L1092 325.8L1091 325.8L1091 326.07L1090 326.07L1090 326L1089 326L1089 325.69L1088 325.69L1088 326.01L1087 326.01L1087 325.66L1086 325.66L1086 325.99L1085 325.99L1085 325.83L1084 325.83L1084 325.69L1083 325.69L1083 326.16L1082 326.16L1082 325.94L1081 325.94L1081 326.1L1080 326.1L1080 325.96L1079 325.96L1079 326.14L1078 326.14L1078 326.22L1077 326.22L1077 325.56L1076 325.56L1076 325.68L1075 325.68L1075 326.22L1074 326.22L1074 326.15L1073 326.15L1073 325.83L1072 325.83L1072 325.75L1071 325.75L1071 326.01L1070 326.01L1070 326.05L1069 326.05L1069 326.02L1068 326.02L1068 326.95L1067 326.95L1067 326.05L1066 326.05L1066 325.82L1065 325.82L1065 325.9L1064 325.9L1064 325.66L1063 325.66L1063 326L1062 326L1062 326.67L1061 326.67L1061 325.82L1060 325.82L1060 327.28L1059 327.28L1059 326.56L1058 326.56L1058 326.81L1057 326.81L1057 326.14L1056 326.14L1056 326.26L1055 326.26L1055 326.97L1054 326.97L1054 326.41L1053 326.41L1053 326.74L1052 326.74L1052 326.83L1051 326.83L1051 326.39L1050 326.39Z" fill="#111111" stroke="none"/>
<path d="M1192 314.92L1192 314.92L1193 314.92L1193 314.92L1194 314.92L1194 315.89L1195 315.89L1195 314.95L1196 314.95L1196 316.47L1197 316.47L1197 316.41L1198 316.41L1198 315.9L1199 315.9L1199 316.64L1200 316.64L1200 316.23L1201 316.23L1201 317.1L1202 317.1L1202 317.55L1203 317.55L1203 317.17L1204 317.17L1204 317.71L1205 317.71L1205 317.46L1206 317.46L1206 318.05L1207 318.05L1207 317.87L1208 317.87L1208 317.91L1209 317.91L1209 317.71L1210 317.71L1210 316.51L1211 316.51L1211 318.09L1212 318.09L1212 318.5L1213 318.5L1213 318.29L1214 318.29L1214 318.39L1215 318.39L1215 318L1216 318L1216 317.07L1217 317.07L1217 318.51L1218 318.51L1218 318.58L1219 318.58L1219 317.04L1220 317.04L1220 318.85L1221 318.85L1221 318.39L1222 318.39L1222 318.53L1223 318.53L1223 318.74L1224 318.74L1224 318.58L1225 318.58L1225 318.84L1226 318.84L1226 319.06L1227 319.06L1227 317.68L1228 317.68L1228 319.2L1229 319.2L1229 319.21L1230 319.21L1230 319L1231 319L1231 317.56L1232 317.56L1232 319.23L1233 319.23L1233 319.06L1234 319.06L1234 318.75L1235 318.75L1235 318.05L1236 318.05L1236 317.7L1237 317.7L1237 319.05L1238 319.05L1238 318.57L1239 318.57L1239 318.11L1240 318.11L1240 319.17L1241 319.17L1241 319.29L1242 319.29L1242 318.94L1243 318.94L1243 319.48L1244 319.48L1244 319.62L1245 319.62L1245 319.42L1246 319.42L1246 319.15L1247 319.15L1247 319.31L1248 319.31L1248 319.58L1249 319.58L1249 319.13L1250 319.13L1250 319.67L1251 319.67L1251 319.05L1252 319.05L1252 319.24L1253 319.24L1253 319.31L1254 319.31L1254 319.4L1255 319.4L1255 319.11L1256 319.11L1256 319.68L1257 319.68L1257 319.67L1258 319.67L1258 319.31L1259 319.31L1259 319.46L1260 319.46L1260 319.37L1261 319.37L1261 319.27L1262 319.27L1262 319.61L1263 319.61L1263 318.94L1264 318.94L1264 319.14L1265 319.14L1265 319.54L1266 319.54L1266 319.08L1267 319.08L1267 319.21L1268 319.21L1268 319.09L1269 319.09L1269 319.04L1270 319.04L1270 318.85L1271 318.85L1271 319.45L1272 319.45L1272 318.82L1273 318.82L1273 319.17L1274 319.17L1274 319.35L1275 319.35L1275 319.21L1276 319.21L1276 317.84L1277 317.84L1277 318.81L1278 318.81L1278 319.06L1279 319.06L1279 319.36L1280 319.36L1280 317.61L1281 317.61L1281 319.02L1282 319.02L1282 318.21L1283 318.21L1283 319.29L1284 319.29L1284 318.69L1285 318.69L1285 318.64L1286 318.64L1286 319.22L1287 319.22L1287 317.69L1288 317.69L1288 319.07L1289 319.07L1289 318.74L1290 318.74L1290 319L1291 319L1291 318.4L1292 318.4L1292 318.85L1293 318.85L1293 318.46L1294 318.46L1294 318.42L1295 318.42L1295 318.61L1296 318.61L1296 318.63L1297 318.63L1297 318.09L1298 318.09L1298 318.65L1299 318.65L1299 318.45L1300 318.45L1300 323.77L1299 323.77L1299 322.82L1298 322.82L1298 324.47L1297 324.47L1297 323.11L1296 323.11L1296 323.93L1295 323.93L1295 322.84L1294 322.84L1294 323.24L1293 323.24L1293 323.02L1292 323.02L1292 324.53L1291 324.53L1291 323.16L1290 323.16L1290 324.05L1289 324.05L1289 323.58L1288 323.58L1288 323.3L1287 323.3L1287 323.37L1286 323.37L1286 323.18L1285 323.18L1285 323.68L1284 323.68L1284 323.71L1283 323.71L1283 323.37L1282 323.37L1282 323.61L1281 323.61L1281 323.53L1280 323.53L1280 323.39L1279 323.39L1279 323.78L1278 323.78L1278 323.88L1277 323.88L1277 323.35L1276 323.35L1276 323.95L1275 323.95L1275 324.38L1274 324.38L1274 323.8L1273 323.8L1273 323.4L1272 323.4L1272 323.57L1271 323.57L1271 323.73L1270 323.73L1270 323.52L1269 323.52L1269 323.65L1268 323.65L1268 324.08L1267 324.08L1267 323.59L1266 323.59L1266 323.83L1265 323.83L1265 324.08L1264 324.08L1264 323.84L1263 323.84L1263 324.85L1262 324.85L1262 323.45L1261 323.45L1261 323.76L1260 323.76L1260 324.06L1259 324.06L1259 323.85L1258 323.85L1258 323.95L1257 323.95L1257 324.18L1256 324.18L1256 323.96L1255 323.96L1255 323.86L1254 323.86L1254 324.03L1253 324.03L1253 323.77L1252 323.77L1252 323.53L1251 323.53L1251 324L1250 324L1250 324.09L1249 324.09L1249 324.88L1248 324.88L1248 324.61L1247 324.61L1247 323.76L1246 323.76L1246 323.55L1245 323.55L1245 324.01L1244 324.01L1244 323.79L1243 323.79L1243 323.75L1242 323.75L1242 323.48L1241 323.48L1241 323.7L1240 323.7L1240 323.49L1239 323.49L1239 323.54L1238 323.54L1238 323.81L1237 323.81L1237 324.31L1236 324.31L1236 323.6L1235 323.6L1235 323.55L1234 323.55L1234 323.57L1233 323.57L1233 324.49L1232 324.49L1232 323.44L1231 323.44L1231 323.77L1230 323.77L1230 323.15L1229 323.15L1229 323.65L1228 323.65L1228 324.18L1227 324.18L1227 324.43L1226 324.43L1226 323.43L1225 323.43L1225 323.33L1224 323.33L1224 323.52L1223 323.52L1223 323.07L1222 323.07L1222 323.03L1221 323.03L1221 322.89L1220 322.89L1220 323.1L1219 323.1L1219 322.69L1218 322.69L1218 323L1217 323L1217 324.12L1216 324.12L1216 323.17L1215 323.17L1215 323.46L1214 323.46L1214 322.68L1213 322.68L1213 322.98L1212 322.98L1212 322.44L1211 322.44L1211 322.86L1210 322.86L1210 322.77L1209 322.77L1209 322.57L1208 322.57L1208 322.56L1207 322.56L1207 322.05L1206 322.05L1206 323.66L1205 323.66L1205 322.03L1204 322.03L1204 323.18L1203 323.18L1203 322.61L1202 322.61L1202 321.4L1201 321.4L1201 321.48L1200 321.48L1200 321.47L1199 321.47L1199 321.43L1198 321.43L1198 321.2L1197 321.2L1197 320.81L1196 320.81L1196 320.16L1195 320.16L1195 319.98L1194 319.98L1194 320.89L1193 320.89L1193 319.17L1192 319.17Z" fill="#111111" stroke="none"/>
<path d="M1322 321.91L1322 321.91L1323 321.91L1323 322.54L1324 322.54L1324 322.13L1325 322.13L1325 321.81L1326 321.81L1326 322.29L1327 322.29L1327 321.76L1328 321.76L1328 321.9L1329 321.9L1329 321.35L1330 321.35L1330 321.63L1331 321.63L1331 321.17L1332 321.17L1332 321.36L1333 321.36L1333 321.05L1334 321.05L1334 320.95L1335 320.95L1335 320.19L1336 320.19L1336 320.68L1337 320.68L1337 320.92L1338 320.92L1338 320.68L1339 320.68L1339 320.25L1340 320.25L1340 320.99L1341 320.99L1341 320.5L1342 320.5L1342 320.31L1343 320.31L1343 320.37L1344 320.37L1344 320.48L1345 320.48L1345 320.36L1346 320.36L1346 320.25L1347 320.25L1347 320.34L1348 320.34L1348 320.46L1349 320.46L1349 320.11L1350 320.11L1350 320.44L1351 320.44L1351 319.53L1352 319.53L1352 320.14L1353 320.14L1353 319.49L1354 319.49L1354 320.12L1355 320.12L1355 320.01L1356 320.01L1356 320.01L1357 320.01L1357 319.37L1358 319.37L1358 319.74L1359 319.74L1359 320.19L1360 320.19L1360 320.02L1361 320.02L1361 320.26L1362 320.26L1362 319.61L1363 319.61L1363 320.67L1364 320.67L1364 320.38L1365 320.38L1365 318.85L1366 318.85L1366 320.08L1367 320.08L1367 320.44L1368 320.44L1368 320.34L1369 320.34L1369 320.34L1370 320.34L1370 320.63L1371 320.63L1371 320.7L1372 320.7L1372 320.33L1373 320.33L1373 320.35L1374 320.35L1374 320.1L1375 320.1L1375 320.57L1376 320.57L1376 320.1L1377 320.1L1377 319.53L1378 319.53L1378 320.32L1379 320.32L1379 320.21L1380 320.21L1380 320.6L1381 320.6L1381 320.04L1382 320.04L1382 320.03L1383 320.03L1383 320.02L1384 320.02L1384 320.7L1385 320.7L1385 320.25L1386 320.25L1386 320.23L1387 320.23L1387 320.08L1388 320.08L1388 320.56L1389 320.56L1389 320.61L1390 320.61L1390 320.13L1391 320.13L1391 320.52L1392 320.52L1392 320.65L1393 320.65L1393 320.64L1394 320.64L1394 320.25L1395 320.25L1395 319.9L1396 319.9L1396 320.18L1397 320.18L1397 320.14L1398 320.14L1398 320.7L1399 320.7L1399 320.05L1400 320.05L1400 320.08L1401 320.08L1401 320.05L1402 320.05L1402 320.16L1403 320.16L1403 320.43L1404 320.43L1404 320.53L1405 320.53L1405 320.06L1406 320.06L1406 320.41L1407 320.41L1407 319L1408 319L1408 320.21L1409 320.21L1409 320.22L1410 320.22L1410 320.21L1411 320.21L1411 319.67L1412 319.67L1412 319.6L1413 319.6L1413 320.16L1414 320.16L1414 320.42L1415 320.42L1415 319.59L1416 319.59L1416 320.06L1417 320.06L1417 320.11L1418 320.11L1418 320.2L1419 320.2L1419 320.58L1420 320.58L1420 319.65L1421 319.65L1421 320.05L1422 320.05L1422 320.04L1423 320.04L1423 325.01L1422 325.01L1422 324.69L1421 324.69L1421 324.84L1420 324.84L1420 324.73L1419 324.73L1419 324.7L1418 324.7L1418 325.05L1417 325.05L1417 324.67L1416 324.67L1416 325.37L1415 325.37L1415 324.87L1414 324.87L1414 326.13L1413 326.13L1413 324.77L1412 324.77L1412 324.52L1411 324.52L1411 324.73L1410 324.73L1410 324.59L1409 324.59L1409 325.16L1408 325.16L1408 324.51L1407 324.51L1407 324.69L1406 324.69L1406 324.92L1405 324.92L1405 324.98L1404 324.98L1404 324.52L1403 324.52L1403 324.79L1402 324.79L1402 324.61L1401 324.61L1401 324.86L1400 324.86L1400 324.68L1399 324.68L1399 325.03L1398 325.03L1398 325.74L1397 325.74L1397 324.71L1396 324.71L1396 325.1L1395 325.1L1395 324.57L1394 324.57L1394 325.19L1393 325.19L1393 325.76L1392 325.76L1392 324.73L1391 324.73L1391 324.62L1390 324.62L1390 325.14L1389 325.14L1389 324.59L1388 324.59L1388 326.44L1387 326.44L1387 325.34L1386 325.34L1386 325.87L1385 325.87L1385 324.67L1384 324.67L1384 324.96L1383 324.96L1383 324.57L1382 324.57L1382 326.52L1381 326.52L1381 324.64L1380 324.64L1380 325.09L1379 325.09L1379 325.02L1378 325.02L1378 324.79L1377 324.79L1377 325.14L1376 325.14L1376 325.18L1375 325.18L1375 325.14L1374 325.14L1374 324.79L1373 324.79L1373 325.98L1372 325.98L1372 325.11L1371 325.11L1371 325.61L1370 325.61L1370 325.69L1369 325.69L1369 324.93L1368 324.93L1368 324.74L1367 324.74L1367 324.56L1366 324.56L1366 325.19L1365 325.19L1365 324.64L1364 324.64L1364 324.69L1363 324.69L1363 325.59L1362 325.59L1362 325.38L1361 325.38L1361 324.88L1360 324.88L1360 324.87L1359 324.87L1359 324.59L1358 324.59L1358 325.04L1357 325.04L1357 324.92L1356 324.92L1356 324.6L1355 324.6L1355 324.71L1354 324.71L1354 325.71L1353 325.71L1353 325.08L1352 325.08L1352 324.92L1351 324.92L1351 324.6L1350 324.6L1350 325.29L1349 325.29L1349 325.06L1348 325.06L1348 324.71L1347 324.71L1347 325.55L1346 325.55L1346 324.99L1345 324.99L1345 325.23L1344 325.23L1344 324.94L1343 324.94L1343 325.17L1342 325.17L1342 325.19L1341 325.19L1341 325.55L1340 325.55L1340 324.95L1339 324.95L1339 326.32L1338 326.32L1338 325.56L1337 325.56L1337 325.71L1336 325.71L1336 325.49L1335 325.49L1335 325.47L1334 325.47L1334 325.43L1333 325.43L1333 325.65L1332 325.65L1332 325.97L1331 325.97L1331 325.69L1330 325.69L1330 326.34L1329 326.34L1329 326.39L1328 326.39L1328 326.22L1327 326.22L1327 326.61L1326 326.61L1326 326.55L1325 326.55L1325 326.47L1324 326.47L1324 327.2L1323 327.2L1323 327.36L1322 327.36Z" fill="#111111" stroke="none"/>
<path d="M258.8 971.5L259.3 971.5L259.8 971.5L260.3 971.5L260.8 971.5L261.3 971.5L261.81 971.5L262.31 971.5L262.81 971.5L263.31 971.5L263.81 971.5L264.31 971.5L264.81 971.5L265.31 971.5L265.81 971.5L266.31 971.5L266.81 971.5L267.31 971.5L267.82 971.5L268.32 971.5L268.82 971.5L269.32 971.5L269.82 971.5L270.32 971.5L270.82 971.5L271.32 971.5L271.82 971.5L272.32 971.5L272.82 971.5L273.32 971.49L273.83 971.49L274.33 971.49L274.83 971.49L275.33 971.49L275.83 971.49L276.33 971.49L276.83 971.49L277.33 971.49L277.83 971.49L278.33 971.49L278.83 971.49L279.33 971.49L279.84 971.49L280.34 971.49L280.84 971.49L281.34 971.49L281.84 971.49L282.34 971.49L282.84 971.48L283.34 971.48L283.84 971.48L284.34 971.48L284.84 971.48L285.34 971.48L285.85 971.48L286.35 971.48L286.85 971.48L287.35 971.48L287.85 971.48L288.35 971.48L288.85 971.48L289.35 971.47L289.85 971.47L290.35 971.47L290.85 971.47L291.35 971.47L291.86 971.47L292.36 971.47L292.86 971.47L293.36 971.47L293.86 971.47L294.36 971.46L294.86 971.46L295.36 971.46L295.86 971.46L296.36 971.46L296.86 971.46L297.36 971.46L297.87 971.46L298.37 971.46L298.87 971.45L299.37 971.45L299.87 971.45L300.37 971.45L300.87 971.45L301.37 971.45L301.87 971.45L302.37 971.44L302.87 971.44L303.38 971.44L303.88 971.44L304.38 971.44L304.88 971.44L305.38 971.44L305.88 971.43L306.38 971.43L306.88 971.43L307.38 971.43L307.88 971.43L308.38 971.43L308.88 971.42L309.39 971.42L309.89 971.42L310.39 971.42L310.89 971.42L311.39 971.42L311.89 971.41L312.39 971.41L312.89 971.41L313.39 971.41L313.89 971.41L314.39 971.4L314.89 971.4L315.4 971.4L315.9 971.4L316.4 971.4L316.9 971.39L317.4 971.39L317.9 971.39L318.4 971.39L318.9 971.39L319.4 971.38L319.9 971.38L320.4 971.38L320.9 971.38L321.41 971.37L321.91 971.37L322.41 971.37L322.91 971.37L323.41 971.37L323.91 971.36L324.41 971.36L324.91 971.36L325.41 971.36L325.91 971.35L326.41 971.35L326.91 971.35L327.42 971.35L327.92 971.34L328.42 971.34L328.92 971.34L329.42 971.33L329.92 971.33L330.42 971.33L330.92 971.33L331.42 971.32L331.92 971.32L332.42 971.32L332.92 971.32L333.43 971.31L333.93 971.31L334.43 971.31L334.93 971.3L335.43 971.3L335.93 971.3L336.43 971.29L336.93 971.29L337.43 971.29L337.93 971.28L338.43 971.28L338.94 971.28L339.44 971.28L339.94 971.27L340.44 971.27L340.94 971.27L341.44 971.26L341.94 971.26L342.44 971.26L342.94 971.25L343.44 971.25L343.94 971.24L344.44 971.24L344.95 971.24L345.45 971.23L345.95 971.23L346.45 971.23L346.95 971.22L347.45 971.22L347.95 971.22L348.45 971.21L348.95 971.21L349.45 971.2L349.95 971.2L350.45 971.2L350.96 971.19L351.46 971.18L351.96 971.18L352.46 971.17L352.96 971.16L353.46 971.15L353.96 971.13L354.46 971.12L354.96 971.11L355.46 971.09L355.96 971.07L356.46 971.05L356.97 971.03L357.47 971.01L357.97 970.98L358.47 970.96L358.97 970.93L359.47 970.9L359.97 970.87L360.47 970.84L360.97 970.8L361.47 970.77L361.97 970.73L362.47 970.69L362.98 970.65L363.48 970.6L363.98 970.56L364.48 970.51L364.98 970.46L365.48 970.41L365.98 970.35L366.48 970.29L366.98 970.23L367.48 970.17L367.98 970.11L368.48 970.04L368.99 969.97L369.49 969.9L369.99 969.83L370.49 969.75L370.99 969.67L371.49 969.59L371.99 969.5L372.49 969.39L372.99 969.22L373.49 968.99L373.99 968.68L374.49 968.29L375 967.8L375.5 967.21L376 966.5L376.5 964.58L377 961.05L377.5 957" fill="none" stroke="#111111" stroke-width="1.4" stroke-linejoin="round" stroke-linecap="round"/>
<path d="M377.5 957L378.5 957L378.5 946.7L378.5 919.1L379.5 904.9L379.5 1068.4L379.5 1016L379.5 994.5L379.5 986L381 986" fill="none" stroke="#111111" stroke-width="1.15" stroke-linejoin="miter" stroke-miterlimit="2"/>
<path d="M381 986L381.5 984.18L382 982.41L382.5 980.94L383 980L383.5 979.42L384.01 978.88L384.51 978.39L385.01 977.93L385.51 977.52L386.01 977.15L386.51 976.82L387.01 976.52L387.51 976.27L388.01 976.04L388.51 975.86L389.01 975.71L389.51 975.59L390.02 975.5L390.52 975.43L391.02 975.36L391.52 975.29L392.02 975.22L392.52 975.15L393.02 975.09L393.52 975.03L394.02 974.96L394.52 974.9L395.02 974.84L395.52 974.79L396.03 974.73L396.53 974.68L397.03 974.62L397.53 974.57L398.03 974.52L398.53 974.47L399.03 974.42L399.53 974.38L400.03 974.33L400.53 974.29L401.03 974.25L401.53 974.21L402.04 974.17L402.54 974.13L403.04 974.09L403.54 974.05L404.04 974.02L404.54 973.99L405.04 973.95L405.54 973.92L406.04 973.89L406.54 973.86L407.04 973.84L407.54 973.81L408.05 973.78L408.55 973.76L409.05 973.74L409.55 973.71L410.05 973.69L410.55 973.67L411.05 973.66L411.55 973.64L412.05 973.62L412.55 973.61L413.05 973.59L413.55 973.58L414.06 973.57L414.56 973.56L415.06 973.55L415.56 973.54L416.06 973.53L416.56 973.52L417.06 973.52L417.56 973.51L418.06 973.51L418.56 973.5L419.06 973.5L419.56 973.5L420.07 973.5L420.57 973.5L421.07 973.5L421.57 973.5L422.07 973.5L422.57 973.5L423.07 973.5L423.57 973.5L424.07 973.5L424.57 973.5L425.07 973.5L425.57 973.5L426.08 973.5L426.58 973.5L427.08 973.5L427.58 973.5L428.08 973.5L428.58 973.5L429.08 973.5L429.58 973.5L430.08 973.5L430.58 973.5L431.08 973.5L431.58 973.5L432.09 973.5L432.59 973.5L433.09 973.5L433.59 973.5L434.09 973.5L434.59 973.5L435.09 973.5L435.59 973.5L436.09 973.5L436.59 973.5L437.09 973.5L437.59 973.5L438.1 973.5L438.6 973.5L439.1 973.5L439.6 973.5L440.1 973.5L440.6 973.5L441.1 973.5L441.6 973.5L442.1 973.5L442.6 973.5L443.1 973.5L443.61 973.5L444.11 973.5L444.61 973.5L445.11 973.5L445.61 973.5L446.11 973.5L446.61 973.5L447.11 973.5L447.61 973.5L448.11 973.5L448.61 973.5L449.11 973.5L449.62 973.5L450.12 973.5L450.62 973.5L451.12 973.5L451.62 973.5L452.12 973.5L452.62 973.5L453.12 973.5L453.62 973.5L454.12 973.5L454.62 973.5L455.12 973.5L455.63 973.5L456.13 973.5L456.63 973.5L457.13 973.5L457.63 973.5L458.13 973.5L458.63 973.5L459.13 973.5L459.63 973.5L460.13 973.5L460.63 973.5L461.13 973.5L461.64 973.51L462.14 973.52L462.64 973.52L463.14 973.53L463.64 973.55L464.14 973.56L464.64 973.57L465.14 973.59L465.64 973.61L466.14 973.63L466.64 973.65L467.14 973.67L467.65 973.69L468.15 973.71L468.65 973.74L469.15 973.76L469.65 973.79L470.15 973.82L470.65 973.85L471.15 973.88L471.65 973.91L472.15 973.94L472.65 973.97L473.15 974L473.66 974.04L474.16 974.07L474.66 974.11L475.16 974.14L475.66 974.18L476.16 974.21L476.66 974.25L477.16 974.29L477.66 974.32L478.16 974.36L478.66 974.4L479.16 974.44L479.67 974.47L480.17 974.51L480.67 974.55L481.17 974.59L481.67 974.63L482.17 974.67L482.67 974.71L483.17 974.75L483.67 974.79L484.17 974.84L484.67 974.88L485.17 974.93L485.68 974.98L486.18 975.04L486.68 975.1L487.18 975.16L487.68 975.23L488.18 975.3L488.68 975.37L489.18 975.45L489.68 975.53L490.18 975.62L490.68 975.72L491.18 975.82L491.69 975.92L492.19 976.03L492.69 976.15L493.19 976.28L493.69 976.41L494.19 976.56L494.69 976.74L495.19 976.98L495.69 977.29L496.19 977.68L496.69 978.17L497.19 978.77L497.7 979.49L498.2 980.52L498.7 983.18L499.2 987.2L499.7 992.26L500.2 1000" fill="none" stroke="#111111" stroke-width="1.4" stroke-linejoin="round" stroke-linecap="round"/>
<path d="M500.2 1000L500.5 1000L500.5 1019.6L500.5 1074.7L502.5 785.8L502.5 825.3L502.5 942.8L502.5 948L503 948" fill="none" stroke="#111111" stroke-width="1.15" stroke-linejoin="miter" stroke-miterlimit="2"/>
<path d="M503 948L503.5 950.92L504 953L504.5 954.16L505 955.11L505.5 955.9L506 956.54L506.5 957.06L507 957.5L507.5 957.89L508 958.25L508.5 958.59L509 958.9L509.5 959.19L510 959.46L510.5 959.72L511 959.95L511.5 960.17L512 960.38L512.5 960.58L513 960.78L513.5 960.96L514 961.14L514.5 961.32L515 961.5L515.5 961.68L516 961.86L516.5 962.03L517 962.21L517.5 962.38L518 962.55L518.5 962.72L519 962.88L519.5 963.05L520 963.21L520.5 963.36L521 963.52L521.5 963.67L522 963.82L522.5 963.96L523 964.1L523.5 964.23L524 964.36L524.5 964.49L525 964.61L525.5 964.72L526 964.83L526.5 964.94L527 965.04L527.5 965.13L528 965.22L528.5 965.3L529 965.37L529.5 965.44L530 965.5L530.5 965.56L531 965.61L531.5 965.67L532 965.72L532.5 965.78L533 965.83L533.5 965.88L534 965.93L534.5 965.98L535 966.03L535.5 966.08L536 966.13L536.5 966.17L537 966.22L537.5 966.26L538 966.31L538.5 966.35L539 966.39L539.5 966.44L540 966.48L540.5 966.52L541 966.56L541.5 966.6L542 966.64L542.5 966.67L543 966.71L543.5 966.74L544 966.78L544.5 966.81L545 966.85L545.5 966.88L546 966.91L546.5 966.94L547 966.97L547.5 967L548 967.03L548.5 967.06L549 967.09L549.5 967.11L550 967.14L550.5 967.16L551 967.19L551.5 967.21L552 967.23L552.5 967.26L553 967.28L553.5 967.3L554 967.32L554.5 967.34L555 967.36L555.5 967.37L556 967.39L556.5 967.41L557 967.42L557.5 967.44L558 967.45L558.5 967.46L559 967.48L559.5 967.49L560 967.5L560.5 967.51L561 967.52L561.5 967.53L562 967.54L562.5 967.55L563 967.56L563.5 967.57L564 967.58L564.5 967.59L565 967.6L565.5 967.61L566 967.62L566.5 967.63L567 967.64L567.5 967.65L568 967.66L568.5 967.67L569 967.68L569.5 967.69L570 967.7L570.5 967.71L571 967.72L571.5 967.73L572 967.74L572.5 967.74L573 967.75L573.5 967.76L574 967.77L574.5 967.78L575 967.79L575.5 967.79L576 967.8L576.5 967.81L577 967.82L577.5 967.82L578 967.83L578.5 967.84L579 967.85L579.5 967.85L580 967.86L580.5 967.87L581 967.87L581.5 967.88L582 967.88L582.5 967.89L583 967.9L583.5 967.9L584 967.91L584.5 967.91L585 967.92L585.5 967.92L586 967.93L586.5 967.93L587 967.94L587.5 967.94L588 967.95L588.5 967.95L589 967.96L589.5 967.96L590 967.96L590.5 967.97L591 967.97L591.5 967.97L592 967.98L592.5 967.98L593 967.98L593.5 967.98L594 967.99L594.5 967.99L595 967.99L595.5 967.99L596 967.99L596.5 968L597 968L597.5 968L598 968L598.5 968L599 968L599.5 968L600 968L600.5 968L601 968L601.5 968L602 968L602.5 968L603 967.99L603.5 967.99L604 967.99L604.5 967.98L605 967.98L605.5 967.97L606 967.97L606.5 967.96L607 967.96L607.5 967.95L608 967.94L608.5 967.93L609 967.92L609.5 967.91L610 967.9L610.5 967.89L611 967.88L611.5 967.87L612 967.85L612.5 967.84L613 967.82L613.5 967.81L614 967.79L614.5 967.77L615 967.75L615.5 967.73L616 967.71L616.5 967.69L617 967.66L617.5 967.64L618 967.61L618.5 967.59L619 967.56L619.5 967.53L620 967.5L620.5 967.41L621 967.21L621.5 966.9L622 966.49L622.5 965.99L623 965.4L623.5 964.74L624 964L624.5 962.79L625 960.87L625.5 958.52L626 956" fill="none" stroke="#111111" stroke-width="1.4" stroke-linejoin="round" stroke-linecap="round"/>
<path d="M626 956L626.5 956L626.5 923.1L626.5 1065.3L626.5 990L628 990" fill="none" stroke="#111111" stroke-width="1.15" stroke-linejoin="miter" stroke-miterlimit="2"/>
<path d="M628 990L628.5 986.3L629 982.58L629.5 979.58L630 978L630.5 977.4L631 976.85L631.5 976.33L632 975.86L632.5 975.42L633 975.02L633.5 974.66L634 974.32L634.5 974.02L635 973.76L635.5 973.52L636 973.31L636.5 973.13L637 972.97L637.5 972.84L638 972.73L638.5 972.64L639 972.58L639.5 972.53L640 972.5L640.5 972.48L641 972.46L641.5 972.44L642 972.42L642.5 972.4L643 972.38L643.5 972.36L644 972.34L644.5 972.32L645 972.31L645.5 972.29L646 972.27L646.5 972.25L647 972.23L647.5 972.22L648 972.2L648.5 972.18L649 972.17L649.5 972.15L650 972.14L650.5 972.12L651 972.11L651.5 972.09L652 972.08L652.5 972.06L653 972.05L653.5 972.03L654 972.02L654.5 972.01L655 971.99L655.5 971.98L656 971.97L656.5 971.95L657 971.94L657.5 971.93L658 971.92L658.5 971.9L659 971.89L659.5 971.88L660 971.87L660.5 971.86L661 971.85L661.5 971.84L662 971.83L662.5 971.82L663 971.81L663.5 971.8L664 971.79L664.5 971.78L665 971.77L665.5 971.76L666 971.75L666.5 971.74L667 971.73L667.5 971.73L668 971.72L668.5 971.71L669 971.7L669.5 971.69L670 971.69L670.5 971.68L671 971.67L671.5 971.67L672 971.66L672.5 971.65L673 971.65L673.5 971.64L674 971.63L674.5 971.63L675 971.62L675.5 971.62L676 971.61L676.5 971.61L677 971.6L677.5 971.6L678 971.59L678.5 971.59L679 971.58L679.5 971.58L680 971.57L680.5 971.57L681 971.57L681.5 971.56L682 971.56L682.5 971.55L683 971.55L683.5 971.55L684 971.54L684.5 971.54L685 971.54L685.5 971.54L686 971.53L686.5 971.53L687 971.53L687.5 971.53L688 971.52L688.5 971.52L689 971.52L689.5 971.52L690 971.52L690.5 971.51L691 971.51L691.5 971.51L692 971.51L692.5 971.51L693 971.51L693.5 971.51L694 971.51L694.5 971.5L695 971.5L695.5 971.5L696 971.5L696.5 971.5L697 971.5L697.5 971.5L698 971.5L698.5 971.5L699 971.5L699.5 971.5L700 971.5L700.5 971.5L701 971.5L701.5 971.5L702 971.5L702.5 971.5L703 971.5L703.5 971.5L704 971.5L704.5 971.5L705 971.5L705.5 971.5L706 971.5L706.5 971.5L707 971.5L707.5 971.5L708 971.5L708.5 971.5L709 971.5L709.5 971.5L710 971.5L710.5 971.5L711 971.5L711.5 971.5L712 971.5L712.5 971.5L713 971.5L713.5 971.5L714 971.5L714.5 971.5L715 971.5L715.5 971.5L716 971.5L716.5 971.5L717 971.5L717.5 971.5L718 971.5L718.5 971.5L719 971.5L719.5 971.5L720 971.5L720.5 971.5L721 971.5L721.5 971.5L722 971.5L722.5 971.5L723 971.5L723.5 971.5L724 971.5L724.5 971.5L725 971.5L725.5 971.5L726 971.5L726.5 971.5L727 971.5L727.5 971.5L728 971.5L728.5 971.5L729 971.5L729.5 971.5L730 971.5L730.5 971.5L731 971.5L731.5 971.5L732 971.5L732.5 971.5L733 971.5L733.5 971.5L734 971.5L734.5 971.5L735 971.5L735.5 971.5" fill="none" stroke="#111111" stroke-width="1.4" stroke-linejoin="round" stroke-linecap="round"/>
<path d="M259 951.25L259 951.25L260 951.25L260 959.7L261 959.7L261 952.78L262 952.78L262 959.8L263 959.8L263 958.66L264 958.66L264 961.98L265 961.98L265 962.06L266 962.06L266 961.49L267 961.49L267 956.74L268 956.74L268 960.67L269 960.67L269 961.9L270 961.9L270 958.94L271 958.94L271 958.12L272 958.12L272 960.75L273 960.75L273 956.07L274 956.07L274 960.51L275 960.51L275 959.03L276 959.03L276 957.13L277 957.13L277 960.41L278 960.41L278 960.9L279 960.9L279 961.42L280 961.42L280 954.86L281 954.86L281 960.91L282 960.91L282 960.89L283 960.89L283 961.54L284 961.54L284 960.48L285 960.48L285 961.78L286 961.78L286 959.06L287 959.06L287 960.2L288 960.2L288 955.51L289 955.51L289 955.22L290 955.22L290 957.08L291 957.08L291 961.62L292 961.62L292 955.7L293 955.7L293 958.2L294 958.2L294 961.63L295 961.63L295 959.64L296 959.64L296 960.62L297 960.62L297 951.82L298 951.82L298 958.87L299 958.87L299 956.61L300 956.61L300 961.05L301 961.05L301 955.12L302 955.12L302 960.43L303 960.43L303 960.93L304 960.93L304 959.18L305 959.18L305 961.27L306 961.27L306 958.59L307 958.59L307 960.91L308 960.91L308 959.32L309 959.32L309 959.09L310 959.09L310 960.11L311 960.11L311 960.84L312 960.84L312 952.32L313 952.32L313 954.3L314 954.3L314 961.26L315 961.26L315 959.73L316 959.73L316 959.57L317 959.57L317 960.72L318 960.72L318 957.51L319 957.51L319 959.93L320 959.93L320 959.42L321 959.42L321 960.79L322 960.79L322 956.68L323 956.68L323 953.01L324 953.01L324 958.11L325 958.11L325 961.84L326 961.84L326 960.16L327 960.16L327 956.88L328 956.88L328 956.37L329 956.37L329 959.78L330 959.78L330 961.99L331 961.99L331 956.47L332 956.47L332 961.65L333 961.65L333 952.27L334 952.27L334 954.43L335 954.43L335 959.71L336 959.71L336 954.58L337 954.58L337 961.79L338 961.79L338 953.67L339 953.67L339 961.06L340 961.06L340 961.45L341 961.45L341 961.33L342 961.33L342 960.08L343 960.08L343 953.29L344 953.29L344 955.25L345 955.25L345 954.75L346 954.75L346 960.07L347 960.07L347 956.14L348 956.14L348 956.02L349 956.02L349 959.9L350 959.9L350 961.86L351 961.86L351 960.34L352 960.34L352 958.93L353 958.93L353 957.52L354 957.52L354 961.73L355 961.73L355 956.83L356 956.83L356 958.32L357 958.32L357 958.83L358 958.83L358 955.35L359 955.35L359 959.5L360 959.5L360 956.05L361 956.05L361 960.83L362 960.83L362 959.65L363 959.65L363 960.56L364 960.56L364 960.78L365 960.78L365 958.91L366 958.91L366 961.57L367 961.57L367 959.15L368 959.15L368 956.81L369 956.81L369 960.75L370 960.75L370 961.09L371 961.09L371 958.44L372 958.44L372 959.33L373 959.33L373 959.31L374 959.31L374 958.52L375 958.52L375 957.27L376 957.27L376 957.47L377 957.47L377 982.2L376 982.2L376 980.48L375 980.48L375 990.33L374 990.33L374 980.86L373 980.86L373 981.08L372 981.08L372 990.88L371 990.88L371 981.8L370 981.8L370 983.11L369 983.11L369 988.64L368 988.64L368 981.12L367 981.12L367 986.96L366 986.96L366 982.43L365 982.43L365 983.2L364 983.2L364 981.92L363 981.92L363 984.03L362 984.03L362 984.16L361 984.16L361 982.03L360 982.03L360 982.98L359 982.98L359 991.29L358 991.29L358 981.76L357 981.76L357 983.87L356 983.87L356 982.11L355 982.11L355 982.27L354 982.27L354 988.34L353 988.34L353 986.07L352 986.07L352 987.63L351 987.63L351 983.42L350 983.42L350 987.84L349 987.84L349 981.58L348 981.58L348 984.45L347 984.45L347 990.91L346 990.91L346 985.22L345 985.22L345 981.92L344 981.92L344 982.27L343 982.27L343 985.08L342 985.08L342 981.93L341 981.93L341 982.06L340 982.06L340 981.72L339 981.72L339 982.39L338 982.39L338 984.34L337 984.34L337 985.42L336 985.42L336 989.61L335 989.61L335 985.71L334 985.71L334 991.09L333 991.09L333 984.48L332 984.48L332 983.14L331 983.14L331 983.84L330 983.84L330 981.85L329 981.85L329 983L328 983L328 985.72L327 985.72L327 984.01L326 984.01L326 984.33L325 984.33L325 988.54L324 988.54L324 982.11L323 982.11L323 981.81L322 981.81L322 988.53L321 988.53L321 983.81L320 983.81L320 984.43L319 984.43L319 984.21L318 984.21L318 984.37L317 984.37L317 986.85L316 986.85L316 982.13L315 982.13L315 992.57L314 992.57L314 983.28L313 983.28L313 981.43L312 981.43L312 982.41L311 982.41L311 982.54L310 982.54L310 984.4L309 984.4L309 984.54L308 984.54L308 991.13L307 991.13L307 981.89L306 981.89L306 982.3L305 982.3L305 986.62L304 986.62L304 982.96L303 982.96L303 984.38L302 984.38L302 983.71L301 983.71L301 983.52L300 983.52L300 985.02L299 985.02L299 989.59L298 989.59L298 986.79L297 986.79L297 986.24L296 986.24L296 981.54L295 981.54L295 989.67L294 989.67L294 984.3L293 984.3L293 981.89L292 981.89L292 984.72L291 984.72L291 991.07L290 991.07L290 982.39L289 982.39L289 987.99L288 987.99L288 982.47L287 982.47L287 982.14L286 982.14L286 982.73L285 982.73L285 986.1L284 986.1L284 982.64L283 982.64L283 982.43L282 982.43L282 982.46L281 982.46L281 987.04L280 987.04L280 982.1L279 982.1L279 984.33L278 984.33L278 981.25L277 981.25L277 990.03L276 990.03L276 983.22L275 983.22L275 981.69L274 981.69L274 983.27L273 983.27L273 981.23L272 981.23L272 981.28L271 981.28L271 988.89L270 988.89L270 990.6L269 990.6L269 984.04L268 984.04L268 981.43L267 981.43L267 981.4L266 981.4L266 984.4L265 984.4L265 982.92L264 982.92L264 987.95L263 987.95L263 984.75L262 984.75L262 987.99L261 987.99L261 982.33L260 982.33L260 985.55L259 985.55Z" fill="#111111" stroke="none"/>
<path d="M381 963.15L381 963.15L382 963.15L382 964.44L383 964.44L383 962.82L384 962.82L384 961.97L385 961.97L385 962.84L386 962.84L386 962L387 962L387 953.53L388 953.53L388 959.64L389 959.64L389 962.7L390 962.7L390 960.05L391 960.05L391 962.77L392 962.77L392 959.16L393 959.16L393 959.41L394 959.41L394 955.2L395 955.2L395 959.67L396 959.67L396 962.43L397 962.43L397 961.96L398 961.96L398 961.17L399 961.17L399 961.61L400 961.61L400 961.99L401 961.99L401 958.86L402 958.86L402 958.83L403 958.83L403 959.3L404 959.3L404 961.11L405 961.11L405 958.91L406 958.91L406 959L407 959L407 960.75L408 960.75L408 961.42L409 961.42L409 961.36L410 961.36L410 960.35L411 960.35L411 958.8L412 958.8L412 959.47L413 959.47L413 960.21L414 960.21L414 960.46L415 960.46L415 950.62L416 950.62L416 961.17L417 961.17L417 952.05L418 952.05L418 960.54L419 960.54L419 959.37L420 959.37L420 958.74L421 958.74L421 958.73L422 958.73L422 956.68L423 956.68L423 955.45L424 955.45L424 960.71L425 960.71L425 957.02L426 957.02L426 955.04L427 955.04L427 957.42L428 957.42L428 958.88L429 958.88L429 961.53L430 961.53L430 961.01L431 961.01L431 958.86L432 958.86L432 958.93L433 958.93L433 958.2L434 958.2L434 960.32L435 960.32L435 953.34L436 953.34L436 958.79L437 958.79L437 960.67L438 960.67L438 958.92L439 958.92L439 961.63L440 961.63L440 961.57L441 961.57L441 959.55L442 959.55L442 956.21L443 956.21L443 959.68L444 959.68L444 959.78L445 959.78L445 952.31L446 952.31L446 957.86L447 957.86L447 955.42L448 955.42L448 955.95L449 955.95L449 954.55L450 954.55L450 955.65L451 955.65L451 955.17L452 955.17L452 958.12L453 958.12L453 960.23L454 960.23L454 958.82L455 958.82L455 950.07L456 950.07L456 958.31L457 958.31L457 961.53L458 961.53L458 959.97L459 959.97L459 960.84L460 960.84L460 957.22L461 957.22L461 957.6L462 957.6L462 961.42L463 961.42L463 961.6L464 961.6L464 961.28L465 961.28L465 959.41L466 959.41L466 961.48L467 961.48L467 958.59L468 958.59L468 955.73L469 955.73L469 954.84L470 954.84L470 950.97L471 950.97L471 958.45L472 958.45L472 961.49L473 961.49L473 955.61L474 955.61L474 956.55L475 956.55L475 960.9L476 960.9L476 957.07L477 957.07L477 960.09L478 960.09L478 959.8L479 959.8L479 961.47L480 961.47L480 960.7L481 960.7L481 958.95L482 958.95L482 961.11L483 961.11L483 961.32L484 961.32L484 957.09L485 957.09L485 958.76L486 958.76L486 960.79L487 960.79L487 962.2L488 962.2L488 957.1L489 957.1L489 962L490 962L490 961.61L491 961.61L491 953.96L492 953.96L492 963.74L493 963.74L493 961.21L494 961.21L494 959.82L495 959.82L495 961.85L496 961.85L496 959.41L497 959.41L497 965.45L498 965.45L498 963.65L499 963.65L499 994.08L498 994.08L498 990.21L497 990.21L497 988.52L496 988.52L496 988.8L495 988.8L495 987.36L494 987.36L494 987L493 987L493 988.64L492 988.64L492 987.07L491 987.07L491 992.55L490 992.55L490 987.13L489 987.13L489 986.35L488 986.35L488 987.26L487 987.26L487 991.92L486 991.92L486 986.65L485 986.65L485 991.4L484 991.4L484 985.27L483 985.27L483 992.8L482 992.8L482 983.73L481 983.73L481 984.69L480 984.69L480 990.05L479 990.05L479 989.34L478 989.34L478 985.06L477 985.06L477 984.61L476 984.61L476 985.73L475 985.73L475 986.94L474 986.94L474 988.01L473 988.01L473 989.67L472 989.67L472 985L471 985L471 986.05L470 986.05L470 984.4L469 984.4L469 985.49L468 985.49L468 983.35L467 983.35L467 983.01L466 983.01L466 983.99L465 983.99L465 986.34L464 986.34L464 984.35L463 984.35L463 986.26L462 986.26L462 985.12L461 985.12L461 984.54L460 984.54L460 990.14L459 990.14L459 984.11L458 984.11L458 984.03L457 984.03L457 983.53L456 983.53L456 985.47L455 985.47L455 985.92L454 985.92L454 983.72L453 983.72L453 985.33L452 985.33L452 984.38L451 984.38L451 984.81L450 984.81L450 983.94L449 983.94L449 986.08L448 986.08L448 986L447 986L447 985.39L446 985.39L446 987.4L445 987.4L445 983.76L444 983.76L444 987.57L443 987.57L443 984.11L442 984.11L442 993.7L441 993.7L441 983.85L440 983.85L440 983.49L439 983.49L439 986.41L438 986.41L438 983.19L437 983.19L437 985.23L436 985.23L436 984.89L435 984.89L435 983.14L434 983.14L434 984.84L433 984.84L433 987.31L432 987.31L432 986.23L431 986.23L431 989.58L430 989.58L430 984.17L429 984.17L429 984.03L428 984.03L428 983.42L427 983.42L427 988.44L426 988.44L426 984.45L425 984.45L425 985.47L424 985.47L424 988L423 988L423 984.41L422 984.41L422 988.57L421 988.57L421 984.95L420 984.95L420 985.17L419 985.17L419 986.43L418 986.43L418 989.94L417 989.94L417 984.57L416 984.57L416 983.17L415 983.17L415 982.96L414 982.96L414 983.72L413 983.72L413 986.39L412 986.39L412 983.89L411 983.89L411 985.81L410 985.81L410 984.23L409 984.23L409 989.14L408 989.14L408 994.25L407 994.25L407 983.27L406 983.27L406 985.22L405 985.22L405 984.06L404 984.06L404 983.51L403 983.51L403 986.36L402 986.36L402 991.36L401 991.36L401 988.03L400 988.03L400 992.02L399 992.02L399 985.71L398 985.71L398 989.35L397 989.35L397 984.34L396 984.34L396 984.75L395 984.75L395 985.63L394 985.63L394 984.09L393 984.09L393 984.09L392 984.09L392 987.41L391 987.41L391 984.74L390 984.74L390 992.33L389 992.33L389 987.24L388 987.24L388 991.06L387 991.06L387 993.25L386 993.25L386 986.03L385 986.03L385 991.9L384 991.9L384 992.8L383 992.8L383 987.12L382 987.12L382 989.04L381 989.04Z" fill="#111111" stroke="none"/>
<path d="M503 941.95L503 941.95L504 941.95L504 947.85L505 947.85L505 950.18L506 950.18L506 953.1L507 953.1L507 954.67L508 954.67L508 955.76L509 955.76L509 954L510 954L510 955.13L511 955.13L511 955.55L512 955.55L512 955.43L513 955.43L513 957.69L514 957.69L514 956.14L515 956.14L515 958.7L516 958.7L516 956.73L517 956.73L517 958.1L518 958.1L518 948.77L519 948.77L519 958.65L520 958.65L520 953.33L521 953.33L521 957.18L522 957.18L522 956.27L523 956.27L523 958.48L524 958.48L524 951.81L525 951.81L525 959.35L526 959.35L526 957.43L527 957.43L527 950.98L528 950.98L528 959.87L529 959.87L529 958.73L530 958.73L530 952.53L531 952.53L531 956.6L532 956.6L532 957.58L533 957.58L533 957.73L534 957.73L534 957.35L535 957.35L535 952.54L536 952.54L536 957.37L537 957.37L537 959.76L538 959.76L538 958.72L539 958.72L539 950.68L540 950.68L540 956.97L541 956.97L541 957.5L542 957.5L542 952.14L543 952.14L543 958.6L544 958.6L544 950.96L545 950.96L545 952.6L546 952.6L546 957.85L547 957.85L547 956.77L548 956.77L548 956.74L549 956.74L549 957.26L550 957.26L550 956.37L551 956.37L551 959.17L552 959.17L552 951.71L553 951.71L553 953.57L554 953.57L554 952.17L555 952.17L555 957.51L556 957.51L556 949.81L557 949.81L557 957.01L558 957.01L558 959.26L559 959.26L559 959.1L560 959.1L560 959.59L561 959.59L561 955.19L562 955.19L562 956.89L563 956.89L563 957.57L564 957.57L564 958.73L565 958.73L565 953.89L566 953.89L566 950.99L567 950.99L567 957.07L568 957.07L568 950.74L569 950.74L569 959.25L570 959.25L570 958.9L571 958.9L571 958.2L572 958.2L572 957L573 957L573 959.43L574 959.43L574 956.63L575 956.63L575 960.08L576 960.08L576 960.29L577 960.29L577 952.83L578 952.83L578 949.57L579 949.57L579 957.87L580 957.87L580 958.58L581 958.58L581 958.83L582 958.83L582 959.35L583 959.35L583 957.54L584 957.54L584 958.54L585 958.54L585 954.15L586 954.15L586 958.04L587 958.04L587 954.04L588 954.04L588 960.04L589 960.04L589 948.78L590 948.78L590 957.73L591 957.73L591 959.19L592 959.19L592 953.67L593 953.67L593 956.8L594 956.8L594 952.15L595 952.15L595 957.71L596 957.71L596 952.47L597 952.47L597 958.87L598 958.87L598 957.48L599 957.48L599 954.17L600 954.17L600 952.36L601 952.36L601 952.5L602 952.5L602 955.41L603 955.41L603 958.04L604 958.04L604 958.31L605 958.31L605 957.59L606 957.59L606 959.74L607 959.74L607 960.04L608 960.04L608 956.92L609 956.92L609 950.73L610 950.73L610 958.53L611 958.53L611 957.05L612 957.05L612 956.52L613 956.52L613 959.57L614 959.57L614 958.56L615 958.56L615 951.18L616 951.18L616 955.8L617 955.8L617 956.39L618 956.39L618 957.35L619 957.35L619 958.21L620 958.21L620 956.67L621 956.67L621 952.26L622 952.26L622 955.95L623 955.95L623 950.3L624 950.3L624 954.11L625 954.11L625 952.86L626 952.86L626 973.83L625 973.83L625 974.82L624 974.82L624 976.32L623 976.32L623 978.98L622 978.98L622 977.97L621 977.97L621 978.26L620 978.26L620 979.1L619 979.1L619 983.74L618 983.74L618 979.18L617 979.18L617 986.87L616 986.87L616 978.8L615 978.8L615 980L614 980L614 989.29L613 989.29L613 985.71L612 985.71L612 980.14L611 980.14L611 985.95L610 985.95L610 979.31L609 979.31L609 983.79L608 983.79L608 980.97L607 980.97L607 979.13L606 979.13L606 980.12L605 980.12L605 980.39L604 980.39L604 984.67L603 984.67L603 980.74L602 980.74L602 985.27L601 985.27L601 983.47L600 983.47L600 988.25L599 988.25L599 979.06L598 979.06L598 979.53L597 979.53L597 985.32L596 985.32L596 979.95L595 979.95L595 987.79L594 987.79L594 981.25L593 981.25L593 981.21L592 981.21L592 989.32L591 989.32L591 981.75L590 981.75L590 980.3L589 980.3L589 983.11L588 983.11L588 987.92L587 987.92L587 979.92L586 979.92L586 979.98L585 979.98L585 980.75L584 980.75L584 979.32L583 979.32L583 986.64L582 986.64L582 979.5L581 979.5L581 984.74L580 984.74L580 981.87L579 981.87L579 981.15L578 981.15L578 987.64L577 987.64L577 980.25L576 980.25L576 981.35L575 981.35L575 979.17L574 979.17L574 982.01L573 982.01L573 980.75L572 980.75L572 982.16L571 982.16L571 979.19L570 979.19L570 980.65L569 980.65L569 984.63L568 984.63L568 981.96L567 981.96L567 979.39L566 979.39L566 983.16L565 983.16L565 982.04L564 982.04L564 979.52L563 979.52L563 981.28L562 981.28L562 979.37L561 979.37L561 982L560 982L560 983.68L559 983.68L559 982.39L558 982.39L558 981.39L557 981.39L557 980.65L556 980.65L556 980.42L555 980.42L555 982.04L554 982.04L554 989.08L553 989.08L553 988.05L552 988.05L552 980.08L551 980.08L551 979.61L550 979.61L550 979.78L549 979.78L549 981.4L548 981.4L548 979.86L547 979.86L547 981.95L546 981.95L546 981.16L545 981.16L545 979.07L544 979.07L544 981.92L543 981.92L543 982.34L542 982.34L542 980.55L541 980.55L541 981.77L540 981.77L540 979.07L539 979.07L539 982.36L538 982.36L538 980.58L537 980.58L537 986.34L536 986.34L536 980.99L535 980.99L535 978.77L534 978.77L534 981.41L533 981.41L533 981.86L532 981.86L532 982.38L531 982.38L531 978.97L530 978.97L530 981.45L529 981.45L529 981.69L528 981.69L528 980.52L527 980.52L527 980.8L526 980.8L526 980.32L525 980.32L525 979.82L524 979.82L524 978.79L523 978.79L523 978.62L522 978.62L522 981.12L521 981.12L521 981.37L520 981.37L520 980.04L519 980.04L519 981.11L518 981.11L518 981.05L517 981.05L517 987.2L516 987.2L516 981.08L515 981.08L515 980.35L514 980.35L514 985.89L513 985.89L513 983.15L512 983.15L512 980.6L511 980.6L511 978.74L510 978.74L510 978.01L509 978.01L509 980.79L508 980.79L508 974.88L507 974.88L507 975.99L506 975.99L506 974.09L505 974.09L505 976.25L504 976.25L504 970.88L503 970.88Z" fill="#111111" stroke="none"/>
<path d="M628 961.12L628 961.12L629 961.12L629 963.3L630 963.3L630 959.86L631 959.86L631 957.14L632 957.14L632 952.88L633 952.88L633 959.94L634 959.94L634 961.26L635 961.26L635 959.71L636 959.71L636 959.02L637 959.02L637 961.8L638 961.8L638 960L639 960L639 962.29L640 962.29L640 959.9L641 959.9L641 962.06L642 962.06L642 959.87L643 959.87L643 962.16L644 962.16L644 955.78L645 955.78L645 959.12L646 959.12L646 961.12L647 961.12L647 958.73L648 958.73L648 960.51L649 960.51L649 961.54L650 961.54L650 958.82L651 958.82L651 961.62L652 961.62L652 957.09L653 957.09L653 958.77L654 958.77L654 958.77L655 958.77L655 960.15L656 960.15L656 961.37L657 961.37L657 952.43L658 952.43L658 961.07L659 961.07L659 960.99L660 960.99L660 960.97L661 960.97L661 961.38L662 961.38L662 961.96L663 961.96L663 959.39L664 959.39L664 962.04L665 962.04L665 956.67L666 956.67L666 958.06L667 958.06L667 959.73L668 959.73L668 953.93L669 953.93L669 960.34L670 960.34L670 957.15L671 957.15L671 959.99L672 959.99L672 958.81L673 958.81L673 959.94L674 959.94L674 952.03L675 952.03L675 958.93L676 958.93L676 959.49L677 959.49L677 960.84L678 960.84L678 953.79L679 953.79L679 957.56L680 957.56L680 959.41L681 959.41L681 959.69L682 959.69L682 959.07L683 959.07L683 961.71L684 961.71L684 961.55L685 961.55L685 959.69L686 959.69L686 959.37L687 959.37L687 956.64L688 956.64L688 956.99L689 956.99L689 958.81L690 958.81L690 958.73L691 958.73L691 957.85L692 957.85L692 961.65L693 961.65L693 961.27L694 961.27L694 961.95L695 961.95L695 961.47L696 961.47L696 960.36L697 960.36L697 960.67L698 960.67L698 959.3L699 959.3L699 959.62L700 959.62L700 957.03L701 957.03L701 960.32L702 960.32L702 961.33L703 961.33L703 961.83L704 961.83L704 957.27L705 957.27L705 958.59L706 958.59L706 959.07L707 959.07L707 954.06L708 954.06L708 959.79L709 959.79L709 959.32L710 959.32L710 953.93L711 953.93L711 961.13L712 961.13L712 956.4L713 956.4L713 959.67L714 959.67L714 954.18L715 954.18L715 953.9L716 953.9L716 961.38L717 961.38L717 960.03L718 960.03L718 958.51L719 958.51L719 959.16L720 959.16L720 955.26L721 955.26L721 955.25L722 955.25L722 960.99L723 960.99L723 958.13L724 958.13L724 961.49L725 961.49L725 952L726 952L726 960.87L727 960.87L727 954.37L728 954.37L728 958.12L729 958.12L729 952.17L730 952.17L730 959.87L731 959.87L731 961.5L732 961.5L732 959.2L733 959.2L733 955.07L734 955.07L734 960.36L735 960.36L735 960.97L736 960.97L736 984.45L735 984.45L735 987.94L734 987.94L734 982.63L733 982.63L733 987.12L732 987.12L732 988.81L731 988.81L731 986.22L730 986.22L730 983.52L729 983.52L729 984.59L728 984.59L728 986.85L727 986.85L727 982.36L726 982.36L726 983.37L725 983.37L725 984.56L724 984.56L724 982.6L723 982.6L723 984.52L722 984.52L722 981.7L721 981.7L721 981.21L720 981.21L720 981.46L719 981.46L719 985.26L718 985.26L718 981.4L717 981.4L717 987.28L716 987.28L716 982.27L715 982.27L715 984.39L714 984.39L714 982.57L713 982.57L713 988.69L712 988.69L712 982.53L711 982.53L711 987.61L710 987.61L710 983.59L709 983.59L709 981.06L708 981.06L708 984.31L707 984.31L707 981.92L706 981.92L706 984.38L705 984.38L705 984.3L704 984.3L704 982.04L703 982.04L703 981.4L702 981.4L702 982.49L701 982.49L701 982.73L700 982.73L700 982.37L699 982.37L699 984.27L698 984.27L698 989.47L697 989.47L697 987.17L696 987.17L696 984.69L695 984.69L695 986.36L694 986.36L694 985.75L693 985.75L693 983.65L692 983.65L692 981.04L691 981.04L691 982.28L690 982.28L690 983.04L689 983.04L689 982.82L688 982.82L688 982.35L687 982.35L687 987.13L686 987.13L686 983.96L685 983.96L685 982.12L684 982.12L684 982.47L683 982.47L683 981.88L682 981.88L682 981.91L681 981.91L681 984.29L680 984.29L680 983.71L679 983.71L679 983.36L678 983.36L678 986.37L677 986.37L677 981.77L676 981.77L676 983.26L675 983.26L675 984.66L674 984.66L674 992.35L673 992.35L673 989.9L672 989.9L672 982.11L671 982.11L671 986.77L670 986.77L670 983.17L669 983.17L669 981.07L668 981.07L668 985.66L667 985.66L667 983.77L666 983.77L666 981.46L665 981.46L665 981.64L664 981.64L664 983.41L663 983.41L663 984.36L662 984.36L662 982.26L661 982.26L661 985.63L660 985.63L660 987.87L659 987.87L659 981.54L658 981.54L658 984.61L657 984.61L657 991.75L656 991.75L656 987.95L655 987.95L655 981.93L654 981.93L654 989.17L653 989.17L653 986.16L652 986.16L652 982.43L651 982.43L651 983.14L650 983.14L650 981.23L649 981.23L649 984.2L648 984.2L648 982.7L647 982.7L647 983.48L646 983.48L646 986.62L645 986.62L645 982.2L644 982.2L644 983.94L643 983.94L643 983.71L642 983.71L642 982.61L641 982.61L641 983.22L640 983.22L640 983.41L639 983.41L639 989.26L638 989.26L638 982.22L637 982.22L637 981.89L636 981.89L636 983.03L635 983.03L635 984.55L634 984.55L634 989.62L633 989.62L633 985.38L632 985.38L632 982.66L631 982.66L631 983.55L630 983.55L630 983.91L629 983.91L629 985.03L628 985.03Z" fill="#111111" stroke="none"/>
<path d="M939.8 984.97L940.3 984.4L940.8 985.33L941.3 984.65L941.8 984.91L942.3 984.85L942.8 984.81L943.3 984.64L943.8 984.39L944.3 985.62L944.8 985.1L945.3 985.1L945.8 985.74L946.3 984.98L946.8 985.2L947.3 985.02L947.8 985.43L948.3 985.19L948.8 985.12L949.3 984.92L949.8 985.11L950.3 985.42L950.8 984.28L951.3 984.97L951.8 984.86L952.3 984.91L952.8 984.32L953.3 985.27L953.8 984.72L954.3 984.93L954.8 984.84L955.3 984.43L955.8 984.86L956.3 984.37L956.8 984.68L957.3 984.9L957.8 985.01L958.3 985.03L958.8 984.96L959.3 985.76L959.8 985.16L960.3 984.58L960.8 984.8L961.3 984.78L961.8 984.95L962.3 984.8L962.8 984.71L963.3 985.59L963.8 985.03L964.3 984.89L964.8 984.92L965.3 984.94L965.8 985.5L966.3 985.18L966.8 985.4L967.3 983.92L967.8 985.13L968.3 985.38L968.8 985.7L969.3 985.02L969.8 984.41L970.3 985.22L970.8 984.8L971.3 984.39L971.8 984.8L972.3 985.38L972.8 985.43L973.3 985.26L973.8 984.65L974.3 985.89L974.8 984.6L975.3 984.99L975.8 984.51L976.3 985.47L976.8 985.17L977.3 985.32L977.8 985.04L978.3 984.99L978.8 985.07L979.3 984.35L979.8 985.36L980.3 985.33L980.8 984.88L981.3 985.01L981.8 985.12L982.3 985.56L982.8 985.17L983.3 985.03L983.8 984.84L984.3 984.49L984.8 984.81L985.3 985.05L985.8 984.94L986.3 985.05L986.8 985.29L987.3 985.18L987.8 985.13L988.3 985.26L988.8 985.1L989.3 985.03L989.8 985.2L990.3 984.44L990.8 985.48L991.3 984.6L991.8 985.34L992.3 985.06L992.8 985.44L993.3 985.07L993.8 984.73L994.3 985.44L994.8 985.13L995.3 985.11L995.8 985.1L996.3 985.42L996.8 985.36L997.3 985.16L997.8 984.54L998.3 984.94L998.8 985.12L999.3 985.72L999.8 985.23L1000.3 985.06L1000.8 985.51L1001.3 985.06L1001.8 985.09L1002.3 985.16L1002.8 984.58L1003.3 985.44L1003.8 985.26L1004.3 985.01L1004.8 984.71L1005.3 985.19L1005.8 985.6L1006.3 984.89L1006.8 984.74L1007.3 985.26L1007.8 984.56L1008.3 984.34L1008.8 984.96L1009.3 984.88L1009.8 985.02L1010.3 984.93L1010.8 985.23L1011.3 985.03L1011.8 984.88L1012.3 984.91L1012.8 985.25L1013.3 985.33L1013.8 985.28L1014.3 985.17L1014.8 983.79L1015.3 984.51L1015.8 984.69L1016.3 984.81L1016.8 984.16L1017.3 985.1L1017.8 984.67L1018.3 984.3L1018.8 984.49L1019.3 984.25L1019.8 984.05L1020.3 984.39L1020.8 984L1021.3 983.61L1021.8 983.79L1022.3 983.88L1022.8 983.48L1023.3 984.16L1023.8 983.32L1024.3 984.15L1024.8 983.78L1025.3 983.11L1025.8 983.34L1026.3 983.56L1026.8 983.02L1027.3 982.59L1027.8 982.85L1028.3 983.25L1028.8 982.07L1029.3 982.48L1029.8 982.14L1030.3 981.9L1030.8 981.6L1031.3 981.38L1031.8 981.43L1032.3 980.95L1032.8 980.21L1033.3 980.14L1033.8 979.14L1034.3 978.68L1034.8 977.83L1035.3 976.62L1035.8 974.96L1036.3 972.98L1036.8 970.39L1037.3 965.62L1037.8 955.4" fill="none" stroke="#111111" stroke-width="1.8" stroke-linejoin="round" stroke-linecap="round"/>
<path d="M1037.8 955.4L1038.5 955.4L1038.5 946.2L1038.5 1098.7L1038.5 1007.6L1040.6 1007.6" fill="none" stroke="#111111" stroke-width="1.15" stroke-linejoin="miter" stroke-miterlimit="2"/>
<path d="M1040.6 1007.6L1041.1 997.23L1041.6 995.31L1042.1 994.29L1042.61 993.25L1043.11 992L1043.61 990.82L1044.11 989.74L1044.61 989.04L1045.11 989.18L1045.61 988.32L1046.11 988.86L1046.62 988.18L1047.12 988.13L1047.62 987.91L1048.12 987.86L1048.62 987.52L1049.12 987.38L1049.62 987.36L1050.13 987.66L1050.63 987.63L1051.13 987.62L1051.63 987.27L1052.13 987.04L1052.63 986.49L1053.13 987.22L1053.64 987.24L1054.14 986.78L1054.64 987.15L1055.14 987.27L1055.64 986.83L1056.14 987.11L1056.64 986.82L1057.14 986.1L1057.65 986.49L1058.15 986.48L1058.65 986.76L1059.15 986.26L1059.65 986.37L1060.15 986.17L1060.65 986.46L1061.16 986.47L1061.66 986.75L1062.16 986.67L1062.66 986.43L1063.16 986.44L1063.66 986.38L1064.16 986.36L1064.66 986.84L1065.17 985.43L1065.67 986.22L1066.17 986.38L1066.67 986.65L1067.17 985.87L1067.67 986.36L1068.17 986.54L1068.68 986.08L1069.18 985.56L1069.68 986.1L1070.18 985.81L1070.68 986.45L1071.18 985.93L1071.68 986.85L1072.19 986.28L1072.69 985.95L1073.19 986.05L1073.69 985.85L1074.19 986.36L1074.69 986.75L1075.19 986.15L1075.69 986.55L1076.2 985.9L1076.7 986.34L1077.2 987.04L1077.7 985.74L1078.2 986.66L1078.7 986.64L1079.2 985.57L1079.71 985.73L1080.21 985.89L1080.71 986.57L1081.21 986.08L1081.71 986.17L1082.21 986.48L1082.71 986.28L1083.21 986.31L1083.72 986.12L1084.22 986.63L1084.72 985.96L1085.22 986.82L1085.72 986.12L1086.22 985.96L1086.72 986.47L1087.23 986.4L1087.73 985.55L1088.23 986.32L1088.73 985.77L1089.23 985.95L1089.73 986.52L1090.23 985.94L1090.74 986.37L1091.24 986.11L1091.74 986.92L1092.24 986.21L1092.74 985.84L1093.24 985.86L1093.74 985.93L1094.24 986.3L1094.75 986.25L1095.25 986.59L1095.75 986.31L1096.25 986.3L1096.75 986.37L1097.25 986.21L1097.75 986.36L1098.26 986.53L1098.76 986.53L1099.26 986.07L1099.76 985.64L1100.26 985.98L1100.76 986.36L1101.26 985.39L1101.76 986.1L1102.27 986.42L1102.77 986.07L1103.27 985.88L1103.77 986.88L1104.27 986.76L1104.77 986.18L1105.27 986.74L1105.78 986.73L1106.28 985.88L1106.78 987.21L1107.28 985.95L1107.78 986.19L1108.28 985.9L1108.78 986.31L1109.29 985.82L1109.79 986.28L1110.29 986.67L1110.79 986.36L1111.29 986.2L1111.79 986.83L1112.29 985.98L1112.79 986.63L1113.3 986.19L1113.8 986.37L1114.3 986.31L1114.8 986.34L1115.3 986.28L1115.8 986.03L1116.3 986.11L1116.81 986.46L1117.31 986.27L1117.81 985.9L1118.31 986.06L1118.81 986.07L1119.31 986.29L1119.81 986.38L1120.31 986.35L1120.82 986.09L1121.32 986.33L1121.82 985.84L1122.32 985.32L1122.82 986.31L1123.32 985.75L1123.82 986L1124.33 985.91L1124.83 986.55L1125.33 985.91L1125.83 986.43L1126.33 986.17L1126.83 985.91L1127.33 985.8L1127.84 986.51L1128.34 986.49L1128.84 986.62L1129.34 987L1129.84 986.46L1130.34 986.46L1130.84 986.32L1131.34 986.41L1131.85 986.25L1132.35 986.07L1132.85 987.08L1133.35 985.74L1133.85 986.48L1134.35 986.55L1134.85 986.45L1135.36 986.07L1135.86 986.34L1136.36 986.25L1136.86 986.05L1137.36 986.41L1137.86 986.29L1138.36 986.24L1138.86 986.68L1139.37 986.08L1139.87 986.61L1140.37 986.25L1140.87 986.62L1141.37 986.5L1141.87 986.57L1142.37 986.15L1142.88 986.23L1143.38 986.21L1143.88 986.57L1144.38 986.78L1144.88 986.9L1145.38 986.36L1145.88 986.58L1146.39 985.99L1146.89 985.8L1147.39 986.27L1147.89 986.35L1148.39 986.06L1148.89 985.99L1149.39 986.8L1149.89 986.35L1150.4 986.05L1150.9 987.45L1151.4 986.72L1151.9 986.56L1152.4 986.91L1152.9 986.43L1153.4 987.25L1153.91 986.19L1154.41 986.28L1154.91 986.69L1155.41 986.49L1155.91 987.25L1156.41 986.23L1156.91 986.55L1157.41 986.89L1157.92 987.02L1158.42 987.19L1158.92 986.97L1159.42 987.63L1159.92 986.73L1160.42 986.97L1160.92 987.23L1161.43 986.88L1161.93 986.94L1162.43 986.94L1162.93 986.96L1163.43 986.88L1163.93 987.15L1164.43 986.93L1164.94 987.64L1165.44 987.13L1165.94 988.37L1166.44 988.37L1166.94 988.3L1167.44 988.02L1167.94 988.03L1168.44 988.71L1168.95 988.52L1169.45 988.76L1169.95 988.5L1170.45 989.18L1170.95 988.74L1171.45 989.14L1171.95 988.7L1172.46 989.15L1172.96 989.63L1173.46 989.45L1173.96 989.56L1174.46 990.05L1174.96 989.87L1175.46 990.38L1175.96 989.33L1176.47 990.37L1176.97 990.45L1177.47 989.92L1177.97 990.12L1178.47 990.91L1178.97 990.47L1179.47 990.75L1179.98 991.28L1180.48 991.2L1180.98 991.63L1181.48 991.5L1181.98 992.05L1182.48 992.54L1182.98 992.87L1183.49 993.28L1183.99 994.32L1184.49 995.22L1184.99 996.28L1185.49 997.46L1185.99 998.74L1186.49 1000.26L1186.99 1002.27L1187.5 1005.06L1188 1008.88L1188.5 1017.97L1189 1032.2" fill="none" stroke="#111111" stroke-width="1.8" stroke-linejoin="round" stroke-linecap="round"/>
<path d="M1189 1032.2L1190.5 1032.2L1190.5 1076.3L1190.5 771.7L1190.5 911.7L1192.4 911.7" fill="none" stroke="#111111" stroke-width="1.15" stroke-linejoin="miter" stroke-miterlimit="2"/>
<path d="M1192.4 911.7L1192.9 962.28L1193.4 966.11L1193.9 968.36L1194.41 970.42L1194.91 972.1L1195.41 973.45L1195.91 974.51L1196.41 975.31L1196.91 976.2L1197.41 976.92L1197.91 977.37L1198.42 977.87L1198.92 978.82L1199.42 978.78L1199.92 979.53L1200.42 979.65L1200.92 979.68L1201.42 980.39L1201.93 980.48L1202.43 981.12L1202.93 981.53L1203.43 980.97L1203.93 981.48L1204.43 981.62L1204.93 981.28L1205.44 981.29L1205.94 982.17L1206.44 981.67L1206.94 981.87L1207.44 981.88L1207.94 982.02L1208.44 981.94L1208.94 982.45L1209.45 982.68L1209.95 982.2L1210.45 981.92L1210.95 982.44L1211.45 981.95L1211.95 982.27L1212.45 982.93L1212.96 983.32L1213.46 982.68L1213.96 982.22L1214.46 982.87L1214.96 981.85L1215.46 982.4L1215.96 983.18L1216.47 982.93L1216.97 982.22L1217.47 982.14L1217.97 983.02L1218.47 982.73L1218.97 982.55L1219.47 982.91L1219.97 982.59L1220.48 982.14L1220.98 983.09L1221.48 982.6L1221.98 982.49L1222.48 982.38L1222.98 982.94L1223.48 982.59L1223.99 983.09L1224.49 982.79L1224.99 983.27L1225.49 982.77L1225.99 982.68L1226.49 982.24L1226.99 982.55L1227.5 983.19L1228 984L1228.5 982.52L1229 982.6L1229.5 983.09L1230 983.15L1230.5 982.76L1231 983.03L1231.51 982.45L1232.01 982.91L1232.51 983.33L1233.01 983.6L1233.51 982.98L1234.01 982.96L1234.51 983.21L1235.02 983.44L1235.52 983.24L1236.02 982.82L1236.52 983.21L1237.02 983.42L1237.52 982.85L1238.02 982.64L1238.53 983.29L1239.03 983.24L1239.53 983.46L1240.03 983.16L1240.53 982.91L1241.03 982.99L1241.53 982.79L1242.03 982.82L1242.54 982.96L1243.04 983L1243.54 983.55L1244.04 982.75L1244.54 983.16L1245.04 982.98L1245.54 983.71L1246.05 983.29L1246.55 983.07L1247.05 983.49L1247.55 983.23L1248.05 983.05L1248.55 983.75L1249.05 983.47L1249.56 983.83L1250.06 983.64L1250.56 983.51L1251.06 983.29L1251.56 982.87L1252.06 983.5L1252.56 983.28L1253.06 983.5L1253.57 983.26L1254.07 983.03L1254.57 982.93L1255.07 983.52L1255.57 983.73L1256.07 983.19L1256.57 983.45L1257.08 983.78L1257.58 983.02L1258.08 983.19L1258.58 982.93L1259.08 983.73L1259.58 983.41L1260.08 983.17L1260.59 982.76L1261.09 983.28L1261.59 983.69L1262.09 983.25L1262.59 983.21L1263.09 983.58L1263.59 982.94L1264.09 983.39L1264.6 983.58L1265.1 983.11L1265.6 983.1L1266.1 983.48L1266.6 983.36L1267.1 983.32L1267.6 983.48L1268.11 983.49L1268.61 983.1L1269.11 983.19L1269.61 983.59L1270.11 983.82L1270.61 983.91L1271.11 983.16L1271.61 983.83L1272.12 983.72L1272.62 983.46L1273.12 983.65L1273.62 983.77L1274.12 984.11L1274.62 983.14L1275.12 983.71L1275.63 983.47L1276.13 983.45L1276.63 983.93L1277.13 983.82L1277.63 983.2L1278.13 983.46L1278.63 983.64L1279.14 983.09L1279.64 983.88L1280.14 983.57L1280.64 983.66L1281.14 983.73L1281.64 984.24L1282.14 983.65L1282.64 983.53L1283.15 984.26L1283.65 983.51L1284.15 983.52L1284.65 983.24L1285.15 984.1L1285.65 983.84L1286.15 983.93L1286.66 983.85L1287.16 983.76L1287.66 983.56L1288.16 983.59L1288.66 984.02L1289.16 983.94L1289.66 984.47L1290.17 983.68L1290.67 983.8L1291.17 983.64L1291.67 984.47L1292.17 983.61L1292.67 984.31L1293.17 984.56L1293.67 984.05L1294.18 984.37L1294.68 983.42L1295.18 984.04L1295.68 983.63L1296.18 984.27L1296.68 984.24L1297.18 984L1297.69 984.6L1298.19 984.42L1298.69 984.14L1299.19 984.17L1299.69 983.86L1300.19 984.32L1300.69 985.12L1301.2 984.18L1301.7 984.58L1302.2 984.26L1302.7 984.74L1303.2 984.63L1303.7 984.42L1304.2 983.9L1304.7 984.35L1305.21 984.95L1305.71 984.46L1306.21 984.77L1306.71 984.4L1307.21 983.93L1307.71 984.72L1308.21 984.69L1308.72 984.39L1309.22 984.46L1309.72 984.69L1310.22 984.39L1310.72 984.71L1311.22 984.52L1311.72 983.77L1312.23 984.53L1312.73 984.37L1313.23 984.28L1313.73 984.7L1314.23 984.39L1314.73 984.73L1315.23 984.91L1315.73 984.57L1316.24 983.98L1316.74 984.24L1317.24 984.79L1317.74 984.37L1318.24 984.17L1318.74 984.4L1319.24 984.58L1319.75 984.47L1320.25 984.58L1320.75 984.06L1321.25 984.22L1321.75 984.2L1322.25 984.25L1322.75 983.53L1323.26 984.12L1323.76 983.72L1324.26 984.61L1324.76 984.63L1325.26 984.63L1325.76 984.31L1326.26 983.84L1326.76 984.28L1327.27 983.86L1327.77 984.08L1328.27 983.54L1328.77 983.6L1329.27 983.89L1329.77 984.23L1330.27 983.56L1330.78 984.13L1331.28 984.11L1331.78 982.77L1332.28 982.94L1332.78 982.48L1333.28 982.45L1333.78 982.09L1334.29 981.91L1334.79 981.83L1335.29 981.42L1335.79 980.72L1336.29 979.9L1336.79 978.89L1337.29 977.66L1337.79 976.23L1338.3 974.43L1338.8 971.41L1339.3 963.8L1339.8 946.1" fill="none" stroke="#111111" stroke-width="1.8" stroke-linejoin="round" stroke-linecap="round"/>
<path d="M1339.8 946.1L1341.5 946.1L1341.5 928.8L1341.5 1096L1341.5 1008.9L1343.3 1008.9" fill="none" stroke="#111111" stroke-width="1.15" stroke-linejoin="miter" stroke-miterlimit="2"/>
<path d="M1343.3 1008.9L1343.8 993.63L1344.3 992.41L1344.8 992.23L1345.3 991.53L1345.81 990.55L1346.31 990.71L1346.81 990.55L1347.31 990.2L1347.81 990.17L1348.31 989.79L1348.81 989.46L1349.31 988.69L1349.82 988.78L1350.32 989.01L1350.82 989.02L1351.32 988.38L1351.82 988.37L1352.32 988.59L1352.82 987.74L1353.32 987.62L1353.83 988.06L1354.33 988.13L1354.83 987.81L1355.33 987.16L1355.83 987.84L1356.33 987.34L1356.83 987.94L1357.33 987.64L1357.84 987.72L1358.34 987.8L1358.84 987.38L1359.34 987.79L1359.84 987.89L1360.34 987.57L1360.84 987.84L1361.34 987.15L1361.85 987.63L1362.35 987.38L1362.85 986.93L1363.35 987.2L1363.85 987.02L1364.35 986.98L1364.85 987.16L1365.35 987.46L1365.86 986.97L1366.36 987.09L1366.86 986.53L1367.36 987.03L1367.86 987.36L1368.36 987.22L1368.86 987.09L1369.36 986.72L1369.87 986.55L1370.37 986.83L1370.87 986.38L1371.37 986.4L1371.87 987.12L1372.37 986.47L1372.87 987.38L1373.37 986.26L1373.87 986.88L1374.38 986.32L1374.88 986.76L1375.38 986.33L1375.88 986.69L1376.38 986.61L1376.88 986.5L1377.38 986.82L1377.88 987.15L1378.39 986.42L1378.89 986.92L1379.39 986.63L1379.89 986.59L1380.39 987.35L1380.89 985.84L1381.39 986.34L1381.89 985.95L1382.4 986.46L1382.9 986.48L1383.4 987.86L1383.9 986.66L1384.4 987.16L1384.9 986.98L1385.4 986.37L1385.9 986.68L1386.41 987.09L1386.91 986.57L1387.41 986.57L1387.91 986.67L1388.41 985.97L1388.91 986.2L1389.41 986.59L1389.91 986.66L1390.42 986.15L1390.92 986.35L1391.42 986.41L1391.92 986.4L1392.42 986.68L1392.92 986.48L1393.42 986.49L1393.92 985.94L1394.43 986.06L1394.93 986.53L1395.43 985.86L1395.93 986.5L1396.43 986.18L1396.93 986.12L1397.43 986.62L1397.93 986.16L1398.43 986.09L1398.94 986.15L1399.44 986.4L1399.94 987.33L1400.44 985.64L1400.94 986.36L1401.44 986.28L1401.94 986.69L1402.44 986.23L1402.95 985.5L1403.45 986.81L1403.95 985.97L1404.45 986.32L1404.95 985.87L1405.45 985.96L1405.95 986.16L1406.45 986.63L1406.96 986.62L1407.46 986.12L1407.96 986.5L1408.46 986.19L1408.96 986.36L1409.46 986.37L1409.96 986.53L1410.46 986.1L1410.97 986.26L1411.47 986.38L1411.97 986.34L1412.47 986.03L1412.97 986.9L1413.47 986.14L1413.97 986.56L1414.47 986.37L1414.98 986.72L1415.48 985.54L1415.98 987.01L1416.48 986.22L1416.98 985.86L1417.48 986.34L1417.98 987.08L1418.48 986.47L1418.99 985.86L1419.49 986.13L1419.99 986.75L1420.49 985.8L1420.99 986.23L1421.49 986.19L1421.99 987.04L1422.49 986.19L1423 986.75L1423.5 986.05L1424 986.01L1424.5 986.64L1425 986.51" fill="none" stroke="#111111" stroke-width="1.8" stroke-linejoin="round" stroke-linecap="round"/>
<path d="M1425 986.51L1426.5 986.51L1426.5 979.5L1426.5 986" fill="none" stroke="#111111" stroke-width="1.15" stroke-linejoin="miter" stroke-miterlimit="2"/>
<line x1="373.9" y1="333" x2="374.2" y2="376" stroke="#111111" stroke-width="1.9"/>
<line x1="625.7" y1="335" x2="626" y2="386" stroke="#111111" stroke-width="2.0"/>
<line x1="1044.3" y1="302" x2="1044.6" y2="228" stroke="#111111" stroke-width="2.2"/>
<line x1="1177.4" y1="347" x2="1177.7" y2="397" stroke="#111111" stroke-width="2.2"/>
<line x1="1179.6" y1="169" x2="1180.2" y2="275" stroke="#111111" stroke-width="2.2"/>
<line x1="1315.1" y1="330" x2="1315.1" y2="367" stroke="#111111" stroke-width="2.2"/>
<line x1="378.4" y1="946.7" x2="378.6" y2="919.1" stroke="#111111" stroke-width="2.4"/>
<line x1="380.4" y1="994.5" x2="380.4" y2="1016.1" stroke="#111111" stroke-width="2.4"/>
<line x1="502.2" y1="825.3" x2="502.2" y2="942.8" stroke="#111111" stroke-width="2.6"/>
<line x1="500.6" y1="983.6" x2="500.6" y2="1019.6" stroke="#111111" stroke-width="2.4"/>
<line x1="1039.5" y1="985" x2="1039.6" y2="1062.7" stroke="#111111" stroke-width="2.3"/>
<line x1="1342.1" y1="985" x2="1342.2" y2="1085" stroke="#111111" stroke-width="2.1"/>
<line x1="1189.8" y1="1032" x2="1190.2" y2="1076" stroke="#111111" stroke-width="2.4"/>
<line x1="1192.4" y1="911.7" x2="1192.5" y2="957" stroke="#111111" stroke-width="2.2"/>
<rect x="1234.6" y="97.4" width="189.9" height="148" fill="#ffffff" stroke="#1f1b1c" stroke-width="2.8"/>
<line x1="1234.6" y1="127.2" x2="1241.8" y2="127.2" stroke="#1f1b1c" stroke-width="2.6"/>
<line x1="1234.6" y1="177.3" x2="1241.8" y2="177.3" stroke="#1f1b1c" stroke-width="2.6"/>
<line x1="1234.6" y1="227.2" x2="1241.8" y2="227.2" stroke="#1f1b1c" stroke-width="2.6"/>
<line x1="1255.4" y1="245.4" x2="1255.4" y2="237.6" stroke="#1f1b1c" stroke-width="2.6"/>
<line x1="1351.6" y1="245.4" x2="1351.6" y2="237.6" stroke="#1f1b1c" stroke-width="2.6"/>
<path d="M1236 182.4L1236.5 182.48L1237 182.56L1237.5 182.63L1238 182.71L1238.5 182.79L1239 182.87L1239.5 182.95L1240 183.03L1240.5 183.1L1241 183.18L1241.5 183.26L1242 183.34L1242.5 183.42L1243 183.49L1243.5 183.57L1244 183.64L1244.5 183.71L1245 183.79L1245.5 183.86L1246 183.93L1246.5 184L1247 184.07L1247.5 184.14L1248 184.21L1248.5 184.28L1249 184.35L1249.5 184.42L1250 184.49L1250.5 184.57L1251 184.64L1251.5 184.72L1252 184.79L1252.5 184.87L1253 184.95L1253.5 185.03L1254 185.12L1254.5 185.21L1255 185.3L1255.5 185.39L1256 185.48L1256.5 185.58L1257 185.68L1257.5 185.78L1258 185.89L1258.5 186L1259 186.11L1259.5 186.23L1260 186.35L1260.5 186.47L1261 186.59L1261.5 186.72L1262 186.85L1262.5 186.99L1263 187.13L1263.5 187.27L1264 187.41L1264.5 187.56L1265 187.72L1265.5 187.88L1266 188.04L1266.5 188.2L1267 188.37L1267.5 188.55L1268 188.73L1268.5 188.91L1269 189.12L1269.5 189.35L1270 189.6L1270.5 189.85L1271 190.12L1271.5 190.39L1272 190.67L1272.5 190.94L1273 191.21L1273.5 191.47L1274 191.72L1274.5 191.96L1275 192.17L1275.5 192.37L1276 192.55L1276.5 192.72L1277 192.89L1277.5 193.06L1278 193.23L1278.5 193.4L1279 193.59L1279.5 193.79L1280 194.02L1280.5 194.26L1281 194.54L1281.5 194.87L1282 195.3L1282.5 195.81L1283 196.36L1283.5 196.94L1284 197.52L1284.5 198.08L1285 198.6L1285.5 199.08L1286 199.54L1286.5 199.98L1287 200.41L1287.5 200.86L1288 201.31L1288.5 201.79L1289 202.3L1289.5 202.86L1290 203.47L1290.5 204.19L1291 205.09L1291.5 206.09L1292 207.11L1292.5 208.1L1293 208.97L1293.5 209.65L1294 210.23L1294.5 210.73L1295 211.18L1295.5 211.61L1296 212.04L1296.5 212.48L1297 212.97L1297.5 213.53L1298 214.19L1298.5 215.1L1299 216.21L1299.5 217.45L1300 218.71L1300.5 219.91L1301 220.95L1301.5 221.75L1302 222.22L1302.5 222.3L1303 222.3L1303.5 222.3L1304 222.3L1304.5 222.3L1305 222.3L1305.5 222.3L1306 222.3L1306.5 222.26L1307 222.06L1307.5 221.69L1308 221.19L1308.5 220.58L1309 219.9L1309.5 219.16L1310 218.4L1310.5 217.51L1311 216.36L1311.5 214.95L1312 213.3L1312.5 211.07L1313 208.13L1313.5 204.76L1314 201.22L1314.5 197.8L1315 194.59L1315.5 191.41L1316 188.11L1316.5 184.57L1317 180.64L1317.5 175.97L1318 170.39L1318.5 164.57L1319 159.2L1319.5 154.37L1320 149.71L1320.5 145.24L1321 140.93L1321.5 136.8L1322 132.7L1322.5 128.45L1323 124.24L1323.5 120.3L1324 116.85L1324.5 114.11L1325 112.2L1325.5 110.6L1326 109.73L1326.5 109.89L1327 110.58L1327.5 111.63L1328 112.9L1328.5 114.94L1329 118.16L1329.5 122.21L1330 126.71L1330.5 131.3L1331 136.11L1331.5 141.68L1332 147.51L1332.5 153.07L1333 158.27L1333.5 163.5L1334 168.28L1334.5 172.1L1335 175.42L1335.5 177.97L1336 178.38L1336.5 177.23L1337 175.25L1337.5 172.98L1338 170.66L1338.5 167.7L1339 164.35L1339.5 161L1340 158.04L1340.5 155.72L1341 153.45L1341.5 151.47L1342 150.32L1342.5 150.24L1343 150.46L1343.5 150.86L1344 151.38L1344.5 152.53L1345 155.01L1345.5 158.14L1346 161.24L1346.5 164.42L1347 168.07L1347.5 170.53L1348 170.77L1348.5 170.59L1349 170.29L1349.5 169.88L1350 169.37L1350.5 167.85L1351 165.43L1351.5 162.83L1352 160.75L1352.5 159.9L1353 160.1L1353.5 160.62L1354 161.34L1354.5 162.16L1355 162.95L1355.5 163.8L1356 164.9L1356.5 166.04L1357 167L1357.5 167.54L1358 167.51L1358.5 167.04L1359 166.35L1359.5 165.6L1360 165L1360.5 164.5L1361 163.97L1361.5 163.48L1362 163.08L1362.5 162.84L1363 162.88L1363.5 163.66L1364 164.92L1364.5 166.27L1365 167.29L1365.5 167.6L1366 167.51L1366.5 167.31L1367 167.05L1367.5 166.74L1368 166.43L1368.5 166.14L1369 165.9L1369.5 165.74L1370 165.71L1370.5 165.88L1371 166.22L1371.5 166.65L1372 167.08L1372.5 167.42L1373 167.59L1373.5 167.57L1374 167.46L1374.5 167.3L1375 167.1L1375.5 166.89L1376 166.68L1376.5 166.5L1377 166.36L1377.5 166.3L1378 166.38L1378.5 166.65L1379 167.06L1379.5 167.55L1380 168.04L1380.5 168.47L1381 168.78L1381.5 168.9L1382 168.9L1382.5 168.9L1383 168.9L1383.5 168.9L1384 168.9L1384.5 168.9L1385 168.9L1385.5 168.9L1386 168.9L1386.5 168.9L1387 168.9L1387.5 168.9L1388 168.9L1388.5 168.9L1389 168.9L1389.5 168.9L1390 168.9L1390.5 168.9L1391 168.91L1391.5 168.93L1392 168.97L1392.5 169.03L1393 169.09L1393.5 169.17L1394 169.25L1394.5 169.34L1395 169.43L1395.5 169.52L1396 169.62L1396.5 169.71L1397 169.8L1397.5 169.89L1398 169.96L1398.5 170.03L1399 170.09L1399.5 170.14L1400 170.18L1400.5 170.2L1401 170.2L1401.5 170.19L1402 170.17L1402.5 170.13L1403 170.09L1403.5 170.05L1404 170L1404.5 169.94L1405 169.88L1405.5 169.83L1406 169.77L1406.5 169.71L1407 169.66L1407.5 169.61L1408 169.57L1408.5 169.54L1409 169.52L1409.5 169.5L1410 169.5L1410.5 169.5L1411 169.5L1411.5 169.51L1412 169.51L1412.5 169.52L1413 169.52L1413.5 169.53L1414 169.54L1414.5 169.56L1415 169.57L1415.5 169.59L1416 169.61L1416.5 169.63L1417 169.65L1417.5 169.67L1418 169.7L1418.5 169.73L1419 169.76L1419.5 169.79L1420 169.83L1420.5 169.87L1421 169.91L1421.5 169.96L1422 170L1422.5 170.05L1423 170.11L1423.5 170.17L1424 170.23L1424.5 170.29L1425 170.36L1425.5 170.43L1426 170.5" fill="none" stroke="#111111" stroke-width="1.3" stroke-linejoin="round"/>
<line x1="1424.5" y1="96" x2="1424.5" y2="504.8" stroke="#1f1b1c" stroke-width="2.8"/>
<line x1="1196.4" y1="308.6" x2="1233" y2="289.5" stroke="#d8262c" stroke-width="1.05"/>
<polygon points="1245.9,282.4 1229.3,285.6 1231.2,288.6 1234.4,293.7" fill="#e8212a"/>
<rect x="257.4" y="100.5" width="479.1" height="403" fill="none" stroke="#1f1b1c" stroke-width="2.8"/>
<line x1="257.4" y1="184.6" x2="270.9" y2="184.6" stroke="#1f1b1c" stroke-width="2.6"/>
<line x1="257.4" y1="320.3" x2="270.9" y2="320.3" stroke="#1f1b1c" stroke-width="2.6"/>
<line x1="257.4" y1="456" x2="270.9" y2="456" stroke="#1f1b1c" stroke-width="2.6"/>
<line x1="496.4" y1="503.5" x2="496.4" y2="490" stroke="#1f1b1c" stroke-width="2.6"/>
<rect x="938.5" y="97.4" width="486" height="406" fill="none" stroke="#1f1b1c" stroke-width="2.8"/>
<line x1="938.5" y1="187.3" x2="952" y2="187.3" stroke="#1f1b1c" stroke-width="2.6"/>
<line x1="938.5" y1="322.8" x2="952" y2="322.8" stroke="#1f1b1c" stroke-width="2.6"/>
<line x1="938.5" y1="458.4" x2="952" y2="458.4" stroke="#1f1b1c" stroke-width="2.6"/>
<line x1="1181.2" y1="503.4" x2="1181.2" y2="489.9" stroke="#1f1b1c" stroke-width="2.6"/>
<rect x="257.5" y="724.5" width="479" height="409.8" fill="none" stroke="#1f1b1c" stroke-width="2.8"/>
<line x1="257.5" y1="792" x2="271" y2="792" stroke="#1f1b1c" stroke-width="2.6"/>
<line x1="257.5" y1="928.8" x2="271" y2="928.8" stroke="#1f1b1c" stroke-width="2.6"/>
<line x1="257.5" y1="1064.5" x2="271" y2="1064.5" stroke="#1f1b1c" stroke-width="2.6"/>
<line x1="496.2" y1="1134.3" x2="496.2" y2="1120.8" stroke="#1f1b1c" stroke-width="2.6"/>
<rect x="938.5" y="724.5" width="488.9" height="409.8" fill="none" stroke="#1f1b1c" stroke-width="2.8"/>
<line x1="938.5" y1="793.3" x2="952" y2="793.3" stroke="#1f1b1c" stroke-width="2.6"/>
<line x1="938.5" y1="928.8" x2="952" y2="928.8" stroke="#1f1b1c" stroke-width="2.6"/>
<line x1="938.5" y1="1064.4" x2="952" y2="1064.4" stroke="#1f1b1c" stroke-width="2.6"/>
<line x1="1181.8" y1="1134.3" x2="1181.8" y2="1120.8" stroke="#1f1b1c" stroke-width="2.6"/>
</svg>
</body></html>
